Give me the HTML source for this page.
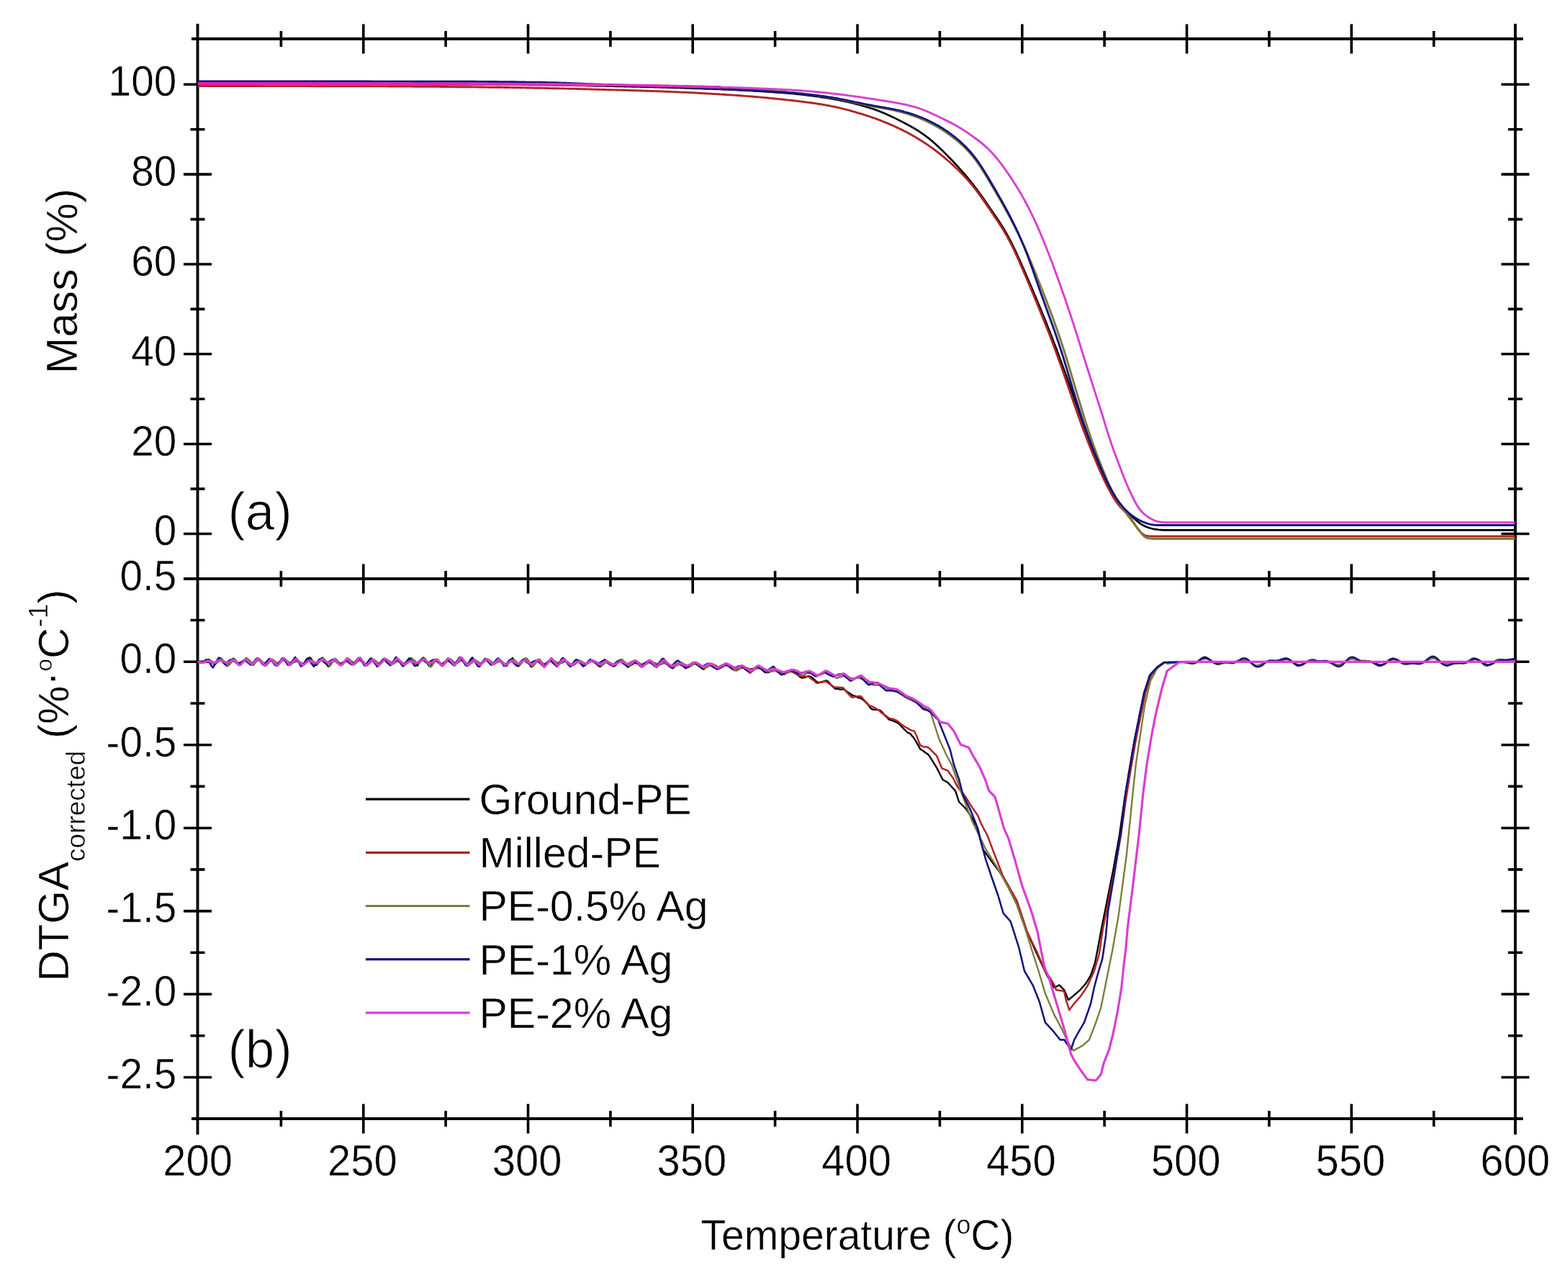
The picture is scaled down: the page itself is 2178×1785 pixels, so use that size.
<!DOCTYPE html><html><head><meta charset="utf-8"><title>TGA / DTGA</title>
<style>html,body{margin:0;padding:0;background:#fff;}svg{display:block;}text{font-family:"Liberation Sans", Arial, sans-serif;fill:#000;stroke:#fff;stroke-width:0.5px;}</style></head><body>
<svg width="2178" height="1785" viewBox="0 0 2178 1785">
<rect width="2178" height="1785" fill="#fff"/>
<g stroke="#000" stroke-width="3.9" fill="none" stroke-linecap="butt">
<path d="M274.5,33 V1576"/>
<path d="M2104.8,33 V1576"/>
<path d="M266,54.0 H2115.5"/>
<path d="M255,804.0 H2124"/>
<path d="M266,1554.0 H2115.5"/>
<path stroke-width="3.6" d="M390.4,43 V65 M390.4,793 V815 M390.4,1543 V1565 M504.8,33.5 V74.5 M504.8,783.5 V824.5 M504.8,1533.5 V1574.5 M619.1,43 V65 M619.1,793 V815 M619.1,1543 V1565 M733.5,33.5 V74.5 M733.5,783.5 V824.5 M733.5,1533.5 V1574.5 M847.9,43 V65 M847.9,793 V815 M847.9,1543 V1565 M962.2,33.5 V74.5 M962.2,783.5 V824.5 M962.2,1533.5 V1574.5 M1076.6,43 V65 M1076.6,793 V815 M1076.6,1543 V1565 M1191,33.5 V74.5 M1191,783.5 V824.5 M1191,1533.5 V1574.5 M1305.4,43 V65 M1305.4,793 V815 M1305.4,1543 V1565 M1419.8,33.5 V74.5 M1419.8,783.5 V824.5 M1419.8,1533.5 V1574.5 M1534.1,43 V65 M1534.1,793 V815 M1534.1,1543 V1565 M1648.5,33.5 V74.5 M1648.5,783.5 V824.5 M1648.5,1533.5 V1574.5 M1762.9,43 V65 M1762.9,793 V815 M1762.9,1543 V1565 M1877.2,33.5 V74.5 M1877.2,783.5 V824.5 M1877.2,1533.5 V1574.5 M1991.6,43 V65 M1991.6,793 V815 M1991.6,1543 V1565 M255,741.5 H294 M2085.3,741.5 H2124.3 M264.5,679.1 H284.5 M2094.8,679.1 H2114.8 M255,616.7 H294 M2085.3,616.7 H2124.3 M264.5,554.2 H284.5 M2094.8,554.2 H2114.8 M255,491.8 H294 M2085.3,491.8 H2124.3 M264.5,429.4 H284.5 M2094.8,429.4 H2114.8 M255,367 H294 M2085.3,367 H2124.3 M264.5,304.6 H284.5 M2094.8,304.6 H2114.8 M255,242.1 H294 M2085.3,242.1 H2124.3 M264.5,179.7 H284.5 M2094.8,179.7 H2114.8 M255,117.3 H294 M2085.3,117.3 H2124.3 M255,1496.5 H294 M2085.3,1496.5 H2124.3 M264.5,1438.8 H284.5 M2094.8,1438.8 H2114.8 M255,1381 H294 M2085.3,1381 H2124.3 M264.5,1323.3 H284.5 M2094.8,1323.3 H2114.8 M255,1265.6 H294 M2085.3,1265.6 H2124.3 M264.5,1207.9 H284.5 M2094.8,1207.9 H2114.8 M255,1150.2 H294 M2085.3,1150.2 H2124.3 M264.5,1092.4 H284.5 M2094.8,1092.4 H2114.8 M255,1034.7 H294 M2085.3,1034.7 H2124.3 M264.5,977 H284.5 M2094.8,977 H2114.8 M255,919.2 H294 M2085.3,919.2 H2124.3 M264.5,861.5 H284.5 M2094.8,861.5 H2114.8"/>
</g>
<g fill="none" stroke-width="2.4" stroke-linejoin="round" stroke-linecap="round">
<path d="M276,116.5 L352,116.5 L384,116.5 L408,116.6 L428,116.6 L446,116.6 L462,116.6 L478,116.6 L492,116.7 L506,116.7 L518,116.7 L530,116.7 L542,116.8 L554,116.8 L564,116.8 L574,116.8 L584,116.8 L594,116.9 L604,116.9 L614,116.9 L624,116.9 L632,117 L640,117 L648,117 L654,117 L660,117 L666,117.1 L668,117.1 L670,117.1 L672,117.1 L674,117.1 L676,117.1 L678,117.1 L680,117.2 L682,117.2 L684,117.2 L686,117.2 L688,117.2 L690,117.2 L692,117.3 L694,117.3 L696,117.3 L698,117.3 L700,117.3 L702,117.4 L704,117.4 L706,117.4 L708,117.4 L710,117.4 L712,117.5 L714,117.5 L716,117.5 L718,117.5 L720,117.6 L722,117.6 L724,117.6 L726,117.6 L728,117.7 L730,117.7 L732,117.7 L734,117.7 L736,117.8 L738,117.8 L740,117.8 L742,117.9 L744,117.9 L746,117.9 L748,117.9 L750,118 L752,118 L754,118 L756,118.1 L758,118.1 L760,118.1 L762,118.2 L764,118.2 L766,118.2 L768,118.3 L770,118.3 L772,118.3 L774,118.4 L776,118.4 L778,118.4 L780,118.5 L782,118.5 L784,118.5 L786,118.6 L788,118.6 L790,118.6 L792,118.7 L794,118.7 L796,118.7 L798,118.8 L800,118.8 L802,118.8 L804,118.9 L806,118.9 L808,118.9 L810,119 L812,119 L814,119 L816,119.1 L818,119.1 L820,119.2 L822,119.2 L824,119.2 L826,119.3 L828,119.3 L830,119.3 L832,119.4 L834,119.4 L836,119.4 L838,119.5 L840,119.5 L842,119.6 L844,119.6 L846,119.6 L848,119.7 L850,119.7 L852,119.7 L854,119.8 L856,119.8 L858,119.9 L860,119.9 L862,119.9 L864,120 L866,120 L868,120.1 L870,120.1 L872,120.2 L874,120.2 L876,120.2 L878,120.3 L880,120.3 L882,120.4 L884,120.4 L886,120.5 L888,120.5 L890,120.6 L892,120.6 L894,120.7 L896,120.7 L898,120.8 L900,120.8 L902,120.9 L904,120.9 L906,121 L908,121 L910,121.1 L912,121.1 L914,121.2 L916,121.2 L918,121.3 L920,121.3 L922,121.4 L924,121.5 L926,121.5 L928,121.6 L930,121.6 L932,121.7 L934,121.7 L936,121.8 L938,121.9 L940,121.9 L942,122 L944,122 L946,122.1 L948,122.2 L950,122.2 L952,122.3 L954,122.4 L956,122.4 L958,122.5 L960,122.6 L962,122.6 L964,122.7 L966,122.8 L968,122.8 L970,122.9 L972,123 L974,123 L976,123.1 L978,123.2 L980,123.3 L982,123.3 L984,123.4 L986,123.5 L988,123.5 L990,123.6 L992,123.7 L994,123.8 L996,123.9 L998,123.9 L1000,124 L1002,124.1 L1004,124.2 L1006,124.3 L1008,124.3 L1010,124.4 L1012,124.5 L1014,124.6 L1016,124.7 L1018,124.8 L1020,124.9 L1022,125 L1024,125.1 L1026,125.2 L1028,125.3 L1030,125.4 L1032,125.5 L1034,125.6 L1036,125.7 L1038,125.8 L1040,125.9 L1042,126 L1044,126.1 L1046,126.2 L1048,126.3 L1050,126.5 L1052,126.6 L1054,126.7 L1056,126.8 L1058,126.9 L1060,127.1 L1062,127.2 L1064,127.3 L1066,127.5 L1068,127.6 L1070,127.7 L1072,127.9 L1074,128 L1076,128.1 L1078,128.3 L1080,128.4 L1082,128.6 L1084,128.7 L1086,128.9 L1088,129 L1090,129.2 L1092,129.4 L1094,129.5 L1096,129.7 L1098,129.9 L1100,130 L1102,130.2 L1104,130.4 L1106,130.6 L1108,130.8 L1110,131 L1112,131.2 L1114,131.4 L1116,131.7 L1118,131.9 L1120,132.1 L1122,132.4 L1124,132.6 L1126,132.9 L1128,133.1 L1130,133.4 L1132,133.7 L1134,133.9 L1136,134.2 L1138,134.5 L1140,134.8 L1142,135.1 L1144,135.4 L1146,135.7 L1148,136 L1150,136.4 L1152,136.7 L1154,137 L1156,137.4 L1158,137.8 L1160,138.1 L1162,138.5 L1164,138.9 L1166,139.3 L1168,139.7 L1170,140.1 L1172,140.5 L1174,140.9 L1176,141.4 L1178,141.8 L1180,142.3 L1182,142.7 L1184,143.2 L1186,143.7 L1188,144.2 L1190,144.7 L1192,145.2 L1194,145.8 L1196,146.3 L1198,146.9 L1200,147.4 L1202,148 L1204,148.6 L1206,149.2 L1208,149.8 L1210,150.5 L1212,151.1 L1214,151.8 L1216,152.5 L1218,153.2 L1220,154 L1222,154.8 L1224,155.6 L1226,156.4 L1228,157.2 L1230,158.1 L1232,159 L1234,159.9 L1236,160.8 L1238,161.7 L1240,162.7 L1242,163.6 L1244,164.6 L1246,165.6 L1248,166.6 L1250,167.6 L1252,168.6 L1254,169.6 L1256,170.7 L1258,171.7 L1260,172.8 L1262,173.9 L1264,175 L1266,176.1 L1268,177.2 L1270,178.4 L1272,179.6 L1274,180.8 L1276,182.1 L1278,183.4 L1280,184.8 L1282,186.1 L1284,187.6 L1286,189 L1288,190.6 L1290,192.1 L1292,193.8 L1294,195.4 L1296,197.1 L1298,198.9 L1300,200.7 L1302,202.5 L1304,204.4 L1306,206.3 L1308,208.2 L1310,210.1 L1312,212.1 L1314,214.1 L1316,216.1 L1318,218.2 L1320,220.2 L1322,222.3 L1324,224.4 L1326,226.6 L1328,228.7 L1330,230.9 L1332,233.1 L1334,235.3 L1336,237.6 L1338,239.9 L1340,242.2 L1342,244.6 L1344,246.9 L1346,249.4 L1348,251.8 L1350,254.3 L1352,256.9 L1354,259.5 L1356,262.1 L1358,264.8 L1360,267.5 L1362,270.3 L1364,273.1 L1366,275.9 L1368,278.8 L1370,281.7 L1372,284.6 L1374,287.5 L1376,290.4 L1378,293.3 L1380,296.2 L1382,299.1 L1384,302 L1386,305 L1388,308.1 L1390,311.1 L1392,314.3 L1394,317.5 L1396,320.9 L1398,324.3 L1400,327.9 L1402,331.6 L1404,335.4 L1406,339.3 L1408,343.4 L1410,347.6 L1412,351.8 L1414,356.2 L1416,360.6 L1418,365.1 L1420,369.7 L1422,374.3 L1424,378.9 L1426,383.5 L1428,388.1 L1430,392.8 L1432,397.4 L1434,402.1 L1436,406.8 L1438,411.5 L1440,416.2 L1442,421 L1444,425.8 L1446,430.6 L1448,435.5 L1450,440.4 L1452,445.3 L1454,450.3 L1456,455.4 L1458,460.5 L1460,465.6 L1462,470.8 L1464,476 L1466,481.3 L1468,486.6 L1470,492 L1472,497.4 L1474,502.8 L1476,508.3 L1478,513.8 L1480,519.3 L1482,524.8 L1484,530.3 L1486,535.8 L1488,541.4 L1490,547 L1492,552.7 L1494,558.4 L1496,564.1 L1498,569.8 L1500,575.6 L1502,581.4 L1504,587.1 L1506,592.8 L1508,598.4 L1510,603.9 L1512,609.3 L1514,614.6 L1516,619.8 L1518,625 L1520,630 L1522,634.9 L1524,639.8 L1526,644.6 L1528,649.3 L1530,653.9 L1532,658.5 L1534,662.9 L1536,667.1 L1538,671.2 L1540,675.2 L1542,679 L1544,682.7 L1546,686.2 L1548,689.6 L1550,692.8 L1552,695.8 L1554,698.5 L1556,701.1 L1558,703.6 L1560,705.8 L1562,707.9 L1564,709.9 L1566,711.8 L1568,713.6 L1570,715.5 L1572,717.3 L1574,719.1 L1576,720.8 L1578,722.6 L1580,724.3 L1582,725.9 L1584,727.4 L1586,728.7 L1588,729.8 L1590,730.8 L1592,731.7 L1594,732.4 L1596,733.1 L1598,733.7 L1600,734.2 L1602,734.7 L1604,735.1 L1606,735.4 L1608,735.7 L1610,736 L1612,736.1 L1614,736.2 L1616,736.3 L1618,736.3 L2103.5,736.3" stroke="#000000" stroke-width="2.7"/>
<path d="M276,119.5 L330,119.5 L354,119.5 L372,119.6 L388,119.6 L402,119.6 L416,119.6 L428,119.6 L440,119.7 L452,119.7 L462,119.7 L472,119.7 L482,119.8 L492,119.8 L502,119.8 L510,119.8 L518,119.9 L524,119.9 L530,119.9 L536,119.9 L540,120 L542,120 L544,120 L546,120 L548,120 L550,120 L552,120 L554,120 L556,120 L558,120.1 L560,120.1 L562,120.1 L564,120.1 L566,120.1 L568,120.1 L570,120.1 L572,120.1 L574,120.2 L576,120.2 L578,120.2 L580,120.2 L582,120.2 L584,120.2 L586,120.2 L588,120.3 L590,120.3 L592,120.3 L594,120.3 L596,120.3 L598,120.3 L600,120.4 L602,120.4 L604,120.4 L606,120.4 L608,120.4 L610,120.4 L612,120.5 L614,120.5 L616,120.5 L618,120.5 L620,120.5 L622,120.5 L624,120.6 L626,120.6 L628,120.6 L630,120.6 L632,120.6 L634,120.7 L636,120.7 L638,120.7 L640,120.7 L642,120.7 L644,120.7 L646,120.8 L648,120.8 L650,120.8 L652,120.8 L654,120.8 L656,120.9 L658,120.9 L660,120.9 L662,120.9 L664,121 L666,121 L668,121 L670,121 L672,121 L674,121.1 L676,121.1 L678,121.1 L680,121.2 L682,121.2 L684,121.2 L686,121.2 L688,121.3 L690,121.3 L692,121.3 L694,121.3 L696,121.4 L698,121.4 L700,121.4 L702,121.5 L704,121.5 L706,121.5 L708,121.6 L710,121.6 L712,121.6 L714,121.7 L716,121.7 L718,121.7 L720,121.8 L722,121.8 L724,121.8 L726,121.9 L728,121.9 L730,121.9 L732,122 L734,122 L736,122 L738,122.1 L740,122.1 L742,122.2 L744,122.2 L746,122.2 L748,122.3 L750,122.3 L752,122.3 L754,122.4 L756,122.4 L758,122.5 L760,122.5 L762,122.5 L764,122.6 L766,122.6 L768,122.7 L770,122.7 L772,122.8 L774,122.8 L776,122.8 L778,122.9 L780,122.9 L782,123 L784,123 L786,123.1 L788,123.1 L790,123.2 L792,123.2 L794,123.3 L796,123.3 L798,123.4 L800,123.4 L802,123.5 L804,123.5 L806,123.6 L808,123.6 L810,123.7 L812,123.8 L814,123.8 L816,123.9 L818,123.9 L820,124 L822,124 L824,124.1 L826,124.1 L828,124.2 L830,124.2 L832,124.3 L834,124.4 L836,124.4 L838,124.5 L840,124.5 L842,124.6 L844,124.6 L846,124.7 L848,124.8 L850,124.8 L852,124.9 L854,124.9 L856,125 L858,125 L860,125.1 L862,125.1 L864,125.2 L866,125.3 L868,125.3 L870,125.4 L872,125.4 L874,125.5 L876,125.6 L878,125.6 L880,125.7 L882,125.7 L884,125.8 L886,125.9 L888,125.9 L890,126 L892,126 L894,126.1 L896,126.2 L898,126.2 L900,126.3 L902,126.4 L904,126.4 L906,126.5 L908,126.6 L910,126.6 L912,126.7 L914,126.8 L916,126.9 L918,126.9 L920,127 L922,127.1 L924,127.2 L926,127.2 L928,127.3 L930,127.4 L932,127.5 L934,127.6 L936,127.6 L938,127.7 L940,127.8 L942,127.9 L944,128 L946,128.1 L948,128.2 L950,128.3 L952,128.3 L954,128.4 L956,128.5 L958,128.6 L960,128.7 L962,128.8 L964,128.9 L966,129 L968,129.1 L970,129.2 L972,129.3 L974,129.5 L976,129.6 L978,129.7 L980,129.8 L982,129.9 L984,130 L986,130.1 L988,130.2 L990,130.4 L992,130.5 L994,130.6 L996,130.7 L998,130.8 L1000,131 L1002,131.1 L1004,131.2 L1006,131.3 L1008,131.5 L1010,131.6 L1012,131.7 L1014,131.9 L1016,132 L1018,132.1 L1020,132.3 L1022,132.4 L1024,132.5 L1026,132.7 L1028,132.8 L1030,133 L1032,133.1 L1034,133.3 L1036,133.4 L1038,133.6 L1040,133.7 L1042,133.9 L1044,134 L1046,134.2 L1048,134.4 L1050,134.5 L1052,134.7 L1054,134.9 L1056,135.1 L1058,135.2 L1060,135.4 L1062,135.6 L1064,135.8 L1066,136 L1068,136.2 L1070,136.4 L1072,136.6 L1074,136.8 L1076,137 L1078,137.2 L1080,137.4 L1082,137.6 L1084,137.8 L1086,138 L1088,138.2 L1090,138.4 L1092,138.6 L1094,138.9 L1096,139.1 L1098,139.3 L1100,139.5 L1102,139.7 L1104,140 L1106,140.2 L1108,140.4 L1110,140.7 L1112,140.9 L1114,141.2 L1116,141.4 L1118,141.7 L1120,141.9 L1122,142.2 L1124,142.4 L1126,142.7 L1128,143 L1130,143.3 L1132,143.6 L1134,143.9 L1136,144.2 L1138,144.5 L1140,144.8 L1142,145.1 L1144,145.5 L1146,145.8 L1148,146.2 L1150,146.5 L1152,146.9 L1154,147.3 L1156,147.7 L1158,148.1 L1160,148.5 L1162,149 L1164,149.4 L1166,149.9 L1168,150.4 L1170,150.8 L1172,151.3 L1174,151.8 L1176,152.4 L1178,152.9 L1180,153.4 L1182,154 L1184,154.6 L1186,155.1 L1188,155.7 L1190,156.3 L1192,156.9 L1194,157.5 L1196,158.1 L1198,158.7 L1200,159.3 L1202,160 L1204,160.6 L1206,161.3 L1208,161.9 L1210,162.6 L1212,163.3 L1214,164 L1216,164.7 L1218,165.4 L1220,166.2 L1222,166.9 L1224,167.7 L1226,168.5 L1228,169.3 L1230,170.1 L1232,170.9 L1234,171.7 L1236,172.6 L1238,173.4 L1240,174.3 L1242,175.2 L1244,176.1 L1246,177.1 L1248,178 L1250,179 L1252,179.9 L1254,180.9 L1256,182 L1258,183 L1260,184 L1262,185.1 L1264,186.2 L1266,187.3 L1268,188.4 L1270,189.6 L1272,190.8 L1274,192 L1276,193.2 L1278,194.4 L1280,195.7 L1282,196.9 L1284,198.2 L1286,199.6 L1288,200.9 L1290,202.3 L1292,203.7 L1294,205.1 L1296,206.5 L1298,208 L1300,209.5 L1302,211 L1304,212.6 L1306,214.2 L1308,215.8 L1310,217.4 L1312,219.1 L1314,220.8 L1316,222.5 L1318,224.2 L1320,226 L1322,227.8 L1324,229.6 L1326,231.5 L1328,233.4 L1330,235.3 L1332,237.2 L1334,239.2 L1336,241.3 L1338,243.3 L1340,245.5 L1342,247.6 L1344,249.8 L1346,252.1 L1348,254.4 L1350,256.8 L1352,259.3 L1354,261.8 L1356,264.4 L1358,267 L1360,269.7 L1362,272.5 L1364,275.3 L1366,278.1 L1368,281 L1370,283.9 L1372,286.9 L1374,289.8 L1376,292.7 L1378,295.7 L1380,298.6 L1382,301.6 L1384,304.5 L1386,307.5 L1388,310.6 L1390,313.7 L1392,316.9 L1394,320.1 L1396,323.5 L1398,326.9 L1400,330.5 L1402,334.3 L1404,338.1 L1406,342.1 L1408,346.2 L1410,350.5 L1412,354.8 L1414,359.2 L1416,363.7 L1418,368.3 L1420,372.9 L1422,377.6 L1424,382.3 L1426,387 L1428,391.7 L1430,396.5 L1432,401.2 L1434,406 L1436,410.8 L1438,415.6 L1440,420.4 L1442,425.3 L1444,430.2 L1446,435.1 L1448,440.1 L1450,445.1 L1452,450.1 L1454,455.2 L1456,460.3 L1458,465.5 L1460,470.7 L1462,476 L1464,481.3 L1466,486.7 L1468,492.2 L1470,497.7 L1472,503.3 L1474,508.9 L1476,514.6 L1478,520.4 L1480,526.2 L1482,532 L1484,537.8 L1486,543.6 L1488,549.5 L1490,555.3 L1492,561.1 L1494,566.8 L1496,572.5 L1498,578.2 L1500,583.7 L1502,589.3 L1504,594.7 L1506,600.1 L1508,605.3 L1510,610.6 L1512,615.7 L1514,620.7 L1516,625.7 L1518,630.6 L1520,635.4 L1522,640.2 L1524,644.9 L1526,649.6 L1528,654.1 L1530,658.6 L1532,663 L1534,667.2 L1536,671.3 L1538,675.3 L1540,679.1 L1542,682.9 L1544,686.5 L1546,689.9 L1548,693.2 L1550,696.2 L1552,699.1 L1554,701.7 L1556,704.1 L1558,706.3 L1560,708.3 L1562,710.3 L1564,712.3 L1566,714.4 L1568,716.7 L1570,719.2 L1572,722 L1574,725 L1576,728.1 L1578,731.2 L1580,734 L1582,736.6 L1584,738.8 L1586,740.8 L1588,742.3 L1590,743.5 L1592,744.2 L1594,744.6 L1596,744.8 L1598,744.9 L1600,745 L1602,745 L2103.5,745" stroke="#b02323" stroke-width="2.9"/>
<path d="M276,116 L348,116 L378,116 L402,116.1 L422,116.1 L440,116.1 L456,116.1 L472,116.1 L486,116.2 L500,116.2 L514,116.2 L526,116.2 L538,116.3 L550,116.3 L562,116.3 L572,116.3 L582,116.3 L592,116.4 L602,116.4 L612,116.4 L622,116.4 L632,116.5 L642,116.5 L650,116.5 L658,116.5 L666,116.6 L672,116.6 L678,116.6 L684,116.6 L688,116.6 L690,116.7 L692,116.7 L694,116.7 L696,116.7 L698,116.7 L700,116.7 L702,116.7 L704,116.7 L706,116.7 L708,116.8 L710,116.8 L712,116.8 L714,116.8 L716,116.8 L718,116.8 L720,116.8 L722,116.9 L724,116.9 L726,116.9 L728,116.9 L730,116.9 L732,116.9 L734,116.9 L736,117 L738,117 L740,117 L742,117 L744,117 L746,117 L748,117.1 L750,117.1 L752,117.1 L754,117.1 L756,117.1 L758,117.1 L760,117.2 L762,117.2 L764,117.2 L766,117.2 L768,117.2 L770,117.2 L772,117.3 L774,117.3 L776,117.3 L778,117.3 L780,117.3 L782,117.4 L784,117.4 L786,117.4 L788,117.4 L790,117.4 L792,117.5 L794,117.5 L796,117.5 L798,117.5 L800,117.6 L802,117.6 L804,117.6 L806,117.6 L808,117.6 L810,117.7 L812,117.7 L814,117.7 L816,117.7 L818,117.8 L820,117.8 L822,117.8 L824,117.8 L826,117.8 L828,117.9 L830,117.9 L832,117.9 L834,117.9 L836,118 L838,118 L840,118 L842,118 L844,118.1 L846,118.1 L848,118.1 L850,118.2 L852,118.2 L854,118.2 L856,118.2 L858,118.3 L860,118.3 L862,118.3 L864,118.4 L866,118.4 L868,118.4 L870,118.5 L872,118.5 L874,118.5 L876,118.6 L878,118.6 L880,118.6 L882,118.7 L884,118.7 L886,118.8 L888,118.8 L890,118.8 L892,118.9 L894,118.9 L896,119 L898,119 L900,119 L902,119.1 L904,119.1 L906,119.2 L908,119.2 L910,119.3 L912,119.3 L914,119.4 L916,119.4 L918,119.5 L920,119.5 L922,119.6 L924,119.6 L926,119.7 L928,119.7 L930,119.8 L932,119.8 L934,119.9 L936,119.9 L938,120 L940,120 L942,120.1 L944,120.2 L946,120.2 L948,120.3 L950,120.3 L952,120.4 L954,120.5 L956,120.5 L958,120.6 L960,120.6 L962,120.7 L964,120.8 L966,120.8 L968,120.9 L970,121 L972,121 L974,121.1 L976,121.2 L978,121.2 L980,121.3 L982,121.4 L984,121.4 L986,121.5 L988,121.6 L990,121.6 L992,121.7 L994,121.8 L996,121.9 L998,121.9 L1000,122 L1002,122.1 L1004,122.2 L1006,122.3 L1008,122.3 L1010,122.4 L1012,122.5 L1014,122.6 L1016,122.7 L1018,122.8 L1020,122.9 L1022,123 L1024,123.1 L1026,123.2 L1028,123.3 L1030,123.4 L1032,123.5 L1034,123.6 L1036,123.7 L1038,123.9 L1040,124 L1042,124.1 L1044,124.2 L1046,124.4 L1048,124.5 L1050,124.6 L1052,124.7 L1054,124.9 L1056,125 L1058,125.2 L1060,125.3 L1062,125.4 L1064,125.6 L1066,125.7 L1068,125.9 L1070,126 L1072,126.2 L1074,126.3 L1076,126.5 L1078,126.7 L1080,126.8 L1082,127 L1084,127.1 L1086,127.3 L1088,127.5 L1090,127.6 L1092,127.8 L1094,128 L1096,128.2 L1098,128.4 L1100,128.5 L1102,128.7 L1104,128.9 L1106,129.1 L1108,129.4 L1110,129.6 L1112,129.8 L1114,130 L1116,130.2 L1118,130.5 L1120,130.7 L1122,131 L1124,131.2 L1126,131.5 L1128,131.8 L1130,132.1 L1132,132.3 L1134,132.6 L1136,132.9 L1138,133.2 L1140,133.5 L1142,133.8 L1144,134.1 L1146,134.4 L1148,134.7 L1150,135.1 L1152,135.4 L1154,135.8 L1156,136.1 L1158,136.5 L1160,136.8 L1162,137.2 L1164,137.6 L1166,138 L1168,138.4 L1170,138.8 L1172,139.2 L1174,139.6 L1176,140.1 L1178,140.5 L1180,140.9 L1182,141.4 L1184,141.8 L1186,142.2 L1188,142.7 L1190,143.1 L1192,143.6 L1194,144 L1196,144.4 L1198,144.8 L1200,145.3 L1202,145.7 L1204,146.1 L1206,146.5 L1208,146.9 L1210,147.3 L1212,147.7 L1214,148.1 L1216,148.5 L1218,148.8 L1220,149.2 L1222,149.6 L1224,149.9 L1226,150.3 L1228,150.6 L1230,151 L1232,151.4 L1234,151.8 L1236,152.1 L1238,152.5 L1240,152.9 L1242,153.4 L1244,153.8 L1246,154.3 L1248,154.7 L1250,155.2 L1252,155.7 L1254,156.3 L1256,156.8 L1258,157.4 L1260,158 L1262,158.6 L1264,159.3 L1266,160 L1268,160.7 L1270,161.4 L1272,162.1 L1274,162.9 L1276,163.6 L1278,164.4 L1280,165.3 L1282,166.1 L1284,167 L1286,167.9 L1288,168.8 L1290,169.8 L1292,170.8 L1294,171.8 L1296,172.9 L1298,173.9 L1300,175.1 L1302,176.2 L1304,177.4 L1306,178.6 L1308,179.8 L1310,181.1 L1312,182.4 L1314,183.8 L1316,185.2 L1318,186.6 L1320,188 L1322,189.5 L1324,191 L1326,192.6 L1328,194.2 L1330,195.8 L1332,197.5 L1334,199.3 L1336,201.1 L1338,203 L1340,204.9 L1342,206.9 L1344,209 L1346,211.1 L1348,213.4 L1350,215.7 L1352,218.2 L1354,220.7 L1356,223.4 L1358,226.1 L1360,229 L1362,232 L1364,235.1 L1366,238.2 L1368,241.4 L1370,244.7 L1372,248 L1374,251.4 L1376,254.8 L1378,258.1 L1380,261.6 L1382,265 L1384,268.4 L1386,271.9 L1388,275.3 L1390,278.8 L1392,282.4 L1394,285.9 L1396,289.5 L1398,293.2 L1400,296.8 L1402,300.6 L1404,304.4 L1406,308.2 L1408,312.1 L1410,316 L1412,320.1 L1414,324.2 L1416,328.3 L1418,332.5 L1420,336.9 L1422,341.2 L1424,345.7 L1426,350.2 L1428,354.8 L1430,359.5 L1432,364.2 L1434,369 L1436,373.9 L1438,378.8 L1440,383.7 L1442,388.7 L1444,393.7 L1446,398.8 L1448,403.8 L1450,409 L1452,414.1 L1454,419.3 L1456,424.6 L1458,429.9 L1460,435.2 L1462,440.6 L1464,446.1 L1466,451.7 L1468,457.3 L1470,463 L1472,468.8 L1474,474.8 L1476,480.8 L1478,487 L1480,493.3 L1482,499.8 L1484,506.3 L1486,513 L1488,519.7 L1490,526.5 L1492,533.2 L1494,540 L1496,546.8 L1498,553.5 L1500,560.2 L1502,566.8 L1504,573.3 L1506,579.8 L1508,586.1 L1510,592.4 L1512,598.5 L1514,604.5 L1516,610.4 L1518,616.1 L1520,621.7 L1522,627.1 L1524,632.5 L1526,637.7 L1528,642.9 L1530,647.9 L1532,652.9 L1534,657.9 L1536,662.7 L1538,667.4 L1540,671.8 L1542,676.1 L1544,680.2 L1546,684.1 L1548,687.8 L1550,691.4 L1552,694.8 L1554,698.1 L1556,701.3 L1558,704.3 L1560,707.2 L1562,710 L1564,712.7 L1566,715.3 L1568,718 L1570,720.6 L1572,723.3 L1574,725.9 L1576,728.5 L1578,731 L1580,733.6 L1582,736.2 L1584,738.8 L1586,741.4 L1588,743.7 L1590,745.6 L1592,746.8 L1594,747.5 L1596,747.9 L1598,748.1 L1600,748.3 L1602,748.4 L1604,748.5 L1606,748.5 L2103.5,748.5" stroke="#7c7c3e" stroke-width="3.0"/>
<path d="M276,112.9 L366,112.9 L402,112.9 L430,113 L454,113 L474,113 L492,113 L508,113 L524,113.1 L538,113.1 L552,113.1 L566,113.1 L578,113.2 L590,113.2 L602,113.2 L614,113.2 L624,113.2 L634,113.3 L644,113.3 L652,113.3 L658,113.3 L664,113.4 L666,113.4 L668,113.4 L670,113.4 L672,113.4 L674,113.4 L676,113.4 L678,113.4 L680,113.5 L682,113.5 L684,113.5 L686,113.5 L688,113.5 L690,113.5 L692,113.6 L694,113.6 L696,113.6 L698,113.6 L700,113.6 L702,113.7 L704,113.7 L706,113.7 L708,113.7 L710,113.8 L712,113.8 L714,113.8 L716,113.8 L718,113.9 L720,113.9 L722,113.9 L724,113.9 L726,114 L728,114 L730,114 L732,114.1 L734,114.1 L736,114.1 L738,114.1 L740,114.2 L742,114.2 L744,114.2 L746,114.3 L748,114.3 L750,114.3 L752,114.4 L754,114.4 L756,114.4 L758,114.5 L760,114.5 L762,114.6 L764,114.6 L766,114.7 L768,114.7 L770,114.8 L772,114.8 L774,114.9 L776,114.9 L778,115 L780,115.1 L782,115.1 L784,115.2 L786,115.3 L788,115.4 L790,115.4 L792,115.5 L794,115.6 L796,115.7 L798,115.8 L800,115.9 L802,115.9 L804,116 L806,116.1 L808,116.2 L810,116.3 L812,116.4 L814,116.5 L816,116.6 L818,116.6 L820,116.7 L822,116.8 L824,116.9 L826,117 L828,117.1 L830,117.1 L832,117.2 L834,117.3 L836,117.4 L838,117.4 L840,117.5 L842,117.6 L844,117.7 L846,117.7 L848,117.8 L850,117.9 L852,117.9 L854,118 L856,118.1 L858,118.1 L860,118.2 L862,118.3 L864,118.3 L866,118.4 L868,118.5 L870,118.5 L872,118.6 L874,118.6 L876,118.7 L878,118.8 L880,118.8 L882,118.9 L884,119 L886,119 L888,119.1 L890,119.2 L892,119.2 L894,119.3 L896,119.3 L898,119.4 L900,119.5 L902,119.5 L904,119.6 L906,119.7 L908,119.7 L910,119.8 L912,119.9 L914,119.9 L916,120 L918,120.1 L920,120.1 L922,120.2 L924,120.3 L926,120.4 L928,120.4 L930,120.5 L932,120.6 L934,120.7 L936,120.7 L938,120.8 L940,120.9 L942,121 L944,121 L946,121.1 L948,121.2 L950,121.3 L952,121.4 L954,121.5 L956,121.5 L958,121.6 L960,121.7 L962,121.8 L964,121.9 L966,122 L968,122 L970,122.1 L972,122.2 L974,122.3 L976,122.4 L978,122.5 L980,122.6 L982,122.7 L984,122.8 L986,122.8 L988,122.9 L990,123 L992,123.1 L994,123.2 L996,123.3 L998,123.4 L1000,123.5 L1002,123.6 L1004,123.7 L1006,123.8 L1008,123.9 L1010,124 L1012,124.1 L1014,124.2 L1016,124.3 L1018,124.3 L1020,124.4 L1022,124.5 L1024,124.6 L1026,124.7 L1028,124.8 L1030,124.9 L1032,125 L1034,125.1 L1036,125.2 L1038,125.3 L1040,125.4 L1042,125.5 L1044,125.6 L1046,125.7 L1048,125.8 L1050,125.9 L1052,126 L1054,126.1 L1056,126.2 L1058,126.3 L1060,126.4 L1062,126.6 L1064,126.7 L1066,126.8 L1068,126.9 L1070,127 L1072,127.1 L1074,127.3 L1076,127.4 L1078,127.5 L1080,127.6 L1082,127.8 L1084,127.9 L1086,128 L1088,128.2 L1090,128.3 L1092,128.4 L1094,128.6 L1096,128.7 L1098,128.9 L1100,129 L1102,129.2 L1104,129.4 L1106,129.5 L1108,129.7 L1110,129.9 L1112,130.1 L1114,130.3 L1116,130.5 L1118,130.7 L1120,130.9 L1122,131.1 L1124,131.3 L1126,131.5 L1128,131.7 L1130,132 L1132,132.2 L1134,132.5 L1136,132.7 L1138,132.9 L1140,133.2 L1142,133.5 L1144,133.7 L1146,134 L1148,134.3 L1150,134.6 L1152,134.9 L1154,135.2 L1156,135.5 L1158,135.9 L1160,136.2 L1162,136.5 L1164,136.9 L1166,137.3 L1168,137.7 L1170,138 L1172,138.4 L1174,138.8 L1176,139.2 L1178,139.7 L1180,140.1 L1182,140.5 L1184,140.9 L1186,141.3 L1188,141.8 L1190,142.2 L1192,142.6 L1194,143 L1196,143.4 L1198,143.9 L1200,144.3 L1202,144.7 L1204,145.1 L1206,145.5 L1208,145.8 L1210,146.2 L1212,146.6 L1214,147 L1216,147.3 L1218,147.7 L1220,148 L1222,148.4 L1224,148.7 L1226,149 L1228,149.4 L1230,149.7 L1232,150.1 L1234,150.4 L1236,150.8 L1238,151.2 L1240,151.6 L1242,152 L1244,152.4 L1246,152.8 L1248,153.2 L1250,153.7 L1252,154.2 L1254,154.7 L1256,155.3 L1258,155.8 L1260,156.4 L1262,157 L1264,157.6 L1266,158.2 L1268,158.9 L1270,159.6 L1272,160.3 L1274,161 L1276,161.8 L1278,162.5 L1280,163.3 L1282,164.2 L1284,165 L1286,165.9 L1288,166.8 L1290,167.7 L1292,168.7 L1294,169.7 L1296,170.7 L1298,171.8 L1300,172.9 L1302,174 L1304,175.1 L1306,176.3 L1308,177.6 L1310,178.8 L1312,180.1 L1314,181.4 L1316,182.8 L1318,184.2 L1320,185.6 L1322,187.1 L1324,188.6 L1326,190.2 L1328,191.8 L1330,193.5 L1332,195.2 L1334,197 L1336,198.8 L1338,200.7 L1340,202.6 L1342,204.6 L1344,206.7 L1346,208.9 L1348,211.1 L1350,213.5 L1352,215.9 L1354,218.5 L1356,221.1 L1358,223.9 L1360,226.8 L1362,229.7 L1364,232.8 L1366,236 L1368,239.2 L1370,242.4 L1372,245.8 L1374,249.1 L1376,252.5 L1378,255.9 L1380,259.3 L1382,262.7 L1384,266.2 L1386,269.7 L1388,273.2 L1390,276.7 L1392,280.3 L1394,283.9 L1396,287.5 L1398,291.2 L1400,295 L1402,298.8 L1404,302.6 L1406,306.6 L1408,310.6 L1410,314.7 L1412,318.9 L1414,323.1 L1416,327.5 L1418,332 L1420,336.7 L1422,341.5 L1424,346.4 L1426,351.5 L1428,356.8 L1430,362.2 L1432,367.7 L1434,373.3 L1436,379 L1438,384.8 L1440,390.5 L1442,396.3 L1444,402 L1446,407.7 L1448,413.3 L1450,418.8 L1452,424.4 L1454,429.9 L1456,435.4 L1458,440.9 L1460,446.4 L1462,452 L1464,457.6 L1466,463.3 L1468,469.1 L1470,475 L1472,481.1 L1474,487.2 L1476,493.6 L1478,500 L1480,506.6 L1482,513.2 L1484,519.9 L1486,526.7 L1488,533.4 L1490,540.1 L1492,546.7 L1494,553.2 L1496,559.7 L1498,566 L1500,572.3 L1502,578.4 L1504,584.5 L1506,590.4 L1508,596.1 L1510,601.8 L1512,607.3 L1514,612.7 L1516,617.9 L1518,623.1 L1520,628.1 L1522,633 L1524,637.9 L1526,642.7 L1528,647.4 L1530,652.1 L1532,656.7 L1534,661.2 L1536,665.6 L1538,669.8 L1540,673.8 L1542,677.6 L1544,681.3 L1546,684.8 L1548,688.1 L1550,691.3 L1552,694.2 L1554,697.1 L1556,699.7 L1558,702.2 L1560,704.6 L1562,706.8 L1564,708.9 L1566,710.8 L1568,712.6 L1570,714.3 L1572,715.9 L1574,717.3 L1576,718.7 L1578,720 L1580,721.2 L1582,722.3 L1584,723.4 L1586,724.3 L1588,725.2 L1590,725.9 L1592,726.6 L1594,727.3 L1596,727.9 L1598,728.4 L1600,728.8 L1602,729.1 L1604,729.3 L1606,729.4 L1608,729.5 L2103.5,729.5" stroke="#15157f" stroke-width="2.9"/>
<path d="M276,116.2 L338,116.2 L364,116.2 L386,116.3 L404,116.3 L420,116.3 L434,116.3 L448,116.3 L462,116.4 L474,116.4 L486,116.4 L498,116.4 L510,116.5 L520,116.5 L530,116.5 L540,116.5 L550,116.5 L560,116.6 L570,116.6 L580,116.6 L590,116.6 L598,116.7 L606,116.7 L614,116.7 L622,116.7 L630,116.7 L638,116.8 L646,116.8 L654,116.8 L662,116.8 L668,116.9 L674,116.9 L680,116.9 L686,116.9 L692,117 L698,117 L704,117 L708,117 L710,117 L712,117 L714,117.1 L716,117.1 L718,117.1 L720,117.1 L722,117.1 L724,117.1 L726,117.1 L728,117.1 L730,117.1 L732,117.2 L734,117.2 L736,117.2 L738,117.2 L740,117.2 L742,117.2 L744,117.2 L746,117.2 L748,117.3 L750,117.3 L752,117.3 L754,117.3 L756,117.3 L758,117.3 L760,117.3 L762,117.4 L764,117.4 L766,117.4 L768,117.4 L770,117.4 L772,117.4 L774,117.4 L776,117.5 L778,117.5 L780,117.5 L782,117.5 L784,117.5 L786,117.5 L788,117.6 L790,117.6 L792,117.6 L794,117.6 L796,117.6 L798,117.6 L800,117.7 L802,117.7 L804,117.7 L806,117.7 L808,117.7 L810,117.7 L812,117.8 L814,117.8 L816,117.8 L818,117.8 L820,117.8 L822,117.8 L824,117.9 L826,117.9 L828,117.9 L830,117.9 L832,117.9 L834,118 L836,118 L838,118 L840,118 L842,118 L844,118.1 L846,118.1 L848,118.1 L850,118.1 L852,118.1 L854,118.2 L856,118.2 L858,118.2 L860,118.2 L862,118.3 L864,118.3 L866,118.3 L868,118.3 L870,118.4 L872,118.4 L874,118.4 L876,118.4 L878,118.5 L880,118.5 L882,118.5 L884,118.6 L886,118.6 L888,118.6 L890,118.7 L892,118.7 L894,118.7 L896,118.8 L898,118.8 L900,118.8 L902,118.9 L904,118.9 L906,118.9 L908,119 L910,119 L912,119 L914,119.1 L916,119.1 L918,119.1 L920,119.2 L922,119.2 L924,119.3 L926,119.3 L928,119.3 L930,119.4 L932,119.4 L934,119.5 L936,119.5 L938,119.5 L940,119.6 L942,119.6 L944,119.7 L946,119.7 L948,119.8 L950,119.8 L952,119.8 L954,119.9 L956,119.9 L958,120 L960,120 L962,120.1 L964,120.1 L966,120.2 L968,120.2 L970,120.3 L972,120.3 L974,120.3 L976,120.4 L978,120.4 L980,120.5 L982,120.5 L984,120.6 L986,120.6 L988,120.7 L990,120.7 L992,120.8 L994,120.8 L996,120.9 L998,121 L1000,121 L1002,121.1 L1004,121.1 L1006,121.2 L1008,121.2 L1010,121.3 L1012,121.3 L1014,121.4 L1016,121.5 L1018,121.5 L1020,121.6 L1022,121.6 L1024,121.7 L1026,121.8 L1028,121.8 L1030,121.9 L1032,122 L1034,122 L1036,122.1 L1038,122.2 L1040,122.3 L1042,122.3 L1044,122.4 L1046,122.5 L1048,122.6 L1050,122.6 L1052,122.7 L1054,122.8 L1056,122.9 L1058,123 L1060,123 L1062,123.1 L1064,123.2 L1066,123.3 L1068,123.4 L1070,123.5 L1072,123.6 L1074,123.7 L1076,123.8 L1078,123.9 L1080,124 L1082,124.1 L1084,124.2 L1086,124.3 L1088,124.4 L1090,124.5 L1092,124.6 L1094,124.7 L1096,124.8 L1098,124.9 L1100,125 L1102,125.2 L1104,125.3 L1106,125.4 L1108,125.5 L1110,125.7 L1112,125.8 L1114,126 L1116,126.1 L1118,126.3 L1120,126.4 L1122,126.6 L1124,126.8 L1126,126.9 L1128,127.1 L1130,127.3 L1132,127.5 L1134,127.7 L1136,127.8 L1138,128 L1140,128.2 L1142,128.4 L1144,128.6 L1146,128.8 L1148,129 L1150,129.2 L1152,129.4 L1154,129.7 L1156,129.9 L1158,130.1 L1160,130.3 L1162,130.6 L1164,130.8 L1166,131 L1168,131.3 L1170,131.5 L1172,131.8 L1174,132.1 L1176,132.3 L1178,132.6 L1180,132.9 L1182,133.1 L1184,133.4 L1186,133.7 L1188,134 L1190,134.3 L1192,134.5 L1194,134.8 L1196,135.1 L1198,135.4 L1200,135.7 L1202,136 L1204,136.3 L1206,136.6 L1208,136.9 L1210,137.2 L1212,137.5 L1214,137.8 L1216,138.1 L1218,138.4 L1220,138.8 L1222,139.1 L1224,139.4 L1226,139.7 L1228,140 L1230,140.3 L1232,140.6 L1234,141 L1236,141.3 L1238,141.6 L1240,142 L1242,142.3 L1244,142.7 L1246,143 L1248,143.4 L1250,143.8 L1252,144.2 L1254,144.6 L1256,145 L1258,145.4 L1260,145.9 L1262,146.4 L1264,146.8 L1266,147.4 L1268,147.9 L1270,148.5 L1272,149 L1274,149.7 L1276,150.3 L1278,151 L1280,151.7 L1282,152.5 L1284,153.3 L1286,154.1 L1288,154.9 L1290,155.8 L1292,156.7 L1294,157.6 L1296,158.5 L1298,159.5 L1300,160.4 L1302,161.3 L1304,162.3 L1306,163.2 L1308,164.2 L1310,165.1 L1312,166.1 L1314,167.1 L1316,168.1 L1318,169.1 L1320,170.1 L1322,171.1 L1324,172.2 L1326,173.3 L1328,174.4 L1330,175.5 L1332,176.7 L1334,177.9 L1336,179.2 L1338,180.4 L1340,181.7 L1342,183.1 L1344,184.4 L1346,185.8 L1348,187.2 L1350,188.6 L1352,190 L1354,191.5 L1356,193 L1358,194.5 L1360,196 L1362,197.6 L1364,199.2 L1366,200.9 L1368,202.6 L1370,204.4 L1372,206.3 L1374,208.2 L1376,210.3 L1378,212.4 L1380,214.6 L1382,216.8 L1384,219.2 L1386,221.6 L1388,224.2 L1390,226.8 L1392,229.4 L1394,232.2 L1396,235 L1398,237.8 L1400,240.7 L1402,243.6 L1404,246.6 L1406,249.6 L1408,252.7 L1410,255.9 L1412,259.1 L1414,262.3 L1416,265.7 L1418,269.1 L1420,272.6 L1422,276.1 L1424,279.8 L1426,283.5 L1428,287.3 L1430,291.2 L1432,295.2 L1434,299.3 L1436,303.5 L1438,307.8 L1440,312.2 L1442,316.7 L1444,321.3 L1446,326 L1448,330.8 L1450,335.7 L1452,340.7 L1454,345.7 L1456,350.8 L1458,356 L1460,361.3 L1462,366.6 L1464,372 L1466,377.4 L1468,382.9 L1470,388.5 L1472,394.1 L1474,399.7 L1476,405.4 L1478,411.1 L1480,416.9 L1482,422.8 L1484,428.7 L1486,434.7 L1488,440.7 L1490,446.8 L1492,453 L1494,459.2 L1496,465.5 L1498,471.9 L1500,478.3 L1502,484.7 L1504,491.2 L1506,497.6 L1508,504.1 L1510,510.5 L1512,516.8 L1514,523.1 L1516,529.4 L1518,535.6 L1520,541.8 L1522,547.9 L1524,554.1 L1526,560.2 L1528,566.4 L1530,572.8 L1532,579.2 L1534,585.8 L1536,592.4 L1538,598.9 L1540,605.2 L1542,611.3 L1544,617.2 L1546,622.9 L1548,628.4 L1550,633.8 L1552,639.1 L1554,644.4 L1556,649.6 L1558,654.9 L1560,660.1 L1562,665.2 L1564,670.1 L1566,674.8 L1568,679.3 L1570,683.6 L1572,687.8 L1574,691.9 L1576,695.9 L1578,699.5 L1580,702.9 L1582,705.9 L1584,708.5 L1586,710.8 L1588,712.8 L1590,714.6 L1592,716.2 L1594,717.7 L1596,719 L1598,720.2 L1600,721.3 L1602,722.3 L1604,723.2 L1606,724 L1608,724.5 L1610,724.9 L1612,725.2 L1614,725.4 L1616,725.5 L1618,725.6 L1620,725.7 L1622,725.7 L2103.5,725.7" stroke="#d83ed4" stroke-width="2.9"/>
<path d="M276,116.2 L338,116.2 L364,116.2 L386,116.3 L404,116.3 L420,116.3 L434,116.3 L448,116.3 L462,116.4 L474,116.4 L486,116.4 L498,116.4 L510,116.5 L520,116.5 L530,116.5 L540,116.5 L550,116.5 L560,116.6 L570,116.6 L580,116.6 L590,116.6 L598,116.7 L606,116.7 L614,116.7 L622,116.7 L630,116.7 L638,116.8 L646,116.8 L654,116.8 L662,116.8 L668,116.9 L674,116.9 L680,116.9 L686,116.9 L692,117 L694,117 L696,117 L698,117 L700,117 L702,117 L704,117 L706,117 L708,117 L710,117.1 L712,117.1 L714,117.1 L716,117.1 L718,117.1 L720,117.1 L722,117.1 L724,117.1 L726,117.2 L728,117.2 L730,117.2 L732,117.2 L734,117.2 L736,117.2 L738,117.2 L740,117.2 L742,117.3 L744,117.3 L746,117.3 L748,117.3 L750,117.3 L752,117.3 L754,117.3 L756,117.4 L758,117.4 L760,117.4 L762,117.4 L764,117.4 L766,117.4 L768,117.4 L770,117.5 L772,117.5 L774,117.5 L776,117.5 L778,117.5 L780,117.5 L782,117.6 L784,117.6 L786,117.6 L788,117.6 L790,117.6 L792,117.6 L794,117.6 L796,117.7 L798,117.7 L800,117.7 L802,117.7 L804,117.7 L806,117.7 L808,117.8 L810,117.8 L812,117.8 L814,117.8 L816,117.8 L818,117.8 L820,117.8 L822,117.9 L824,117.9 L826,117.9 L828,117.9 L830,117.9 L832,117.9 L834,117.9 L836,118 L838,118" stroke="#e81cb0" stroke-width="4.4" stroke-linecap="butt"/>
<path d="M650,116.8 L670,116.8 L680,116.8 L688,116.9 L694,116.9 L700,116.9 L706,116.9 L710,117 L712,117 L714,117 L716,117 L718,117 L720,117 L722,117 L724,117 L726,117.1 L728,117.1 L730,117.1 L732,117.1 L734,117.1 L736,117.1 L738,117.1 L740,117.1 L742,117.2 L744,117.2 L746,117.2 L748,117.2 L750,117.2 L752,117.2 L754,117.2 L756,117.3 L758,117.3 L760,117.3 L762,117.3 L764,117.3 L766,117.3 L768,117.4 L770,117.4 L772,117.4 L774,117.4 L776,117.4 L778,117.4 L780,117.5 L782,117.5 L784,117.5 L786,117.5 L788,117.5 L790,117.5 L792,117.6 L794,117.6 L796,117.6 L798,117.6 L800,117.6 L802,117.7 L804,117.7 L806,117.7 L808,117.7 L810,117.7 L812,117.7 L814,117.8 L816,117.8 L818,117.8 L820,117.8 L822,117.8 L824,117.9 L826,117.9 L828,117.9 L830,117.9 L832,117.9 L834,118 L836,118 L838,118 L840,118 L842,118 L844,118.1 L846,118.1 L848,118.1 L850,118.1 L852,118.1 L854,118.2 L856,118.2 L858,118.2 L860,118.2 L862,118.3 L864,118.3 L866,118.3 L868,118.3 L870,118.4 L872,118.4 L874,118.4 L876,118.5 L878,118.5 L880,118.5 L882,118.5 L884,118.6 L886,118.6 L888,118.6 L890,118.7 L892,118.7 L894,118.7 L896,118.8 L898,118.8 L900,118.8 L902,118.9 L904,118.9 L906,119 L908,119 L910,119 L912,119.1 L914,119.1 L916,119.1 L918,119.2 L920,119.2 L922,119.3 L924,119.3 L926,119.3 L928,119.4 L930,119.4 L932,119.5 L934,119.5 L936,119.5 L938,119.6 L940,119.6 L942,119.7 L944,119.7 L946,119.8 L948,119.8 L950,119.8 L952,119.9 L954,119.9 L956,120 L958,120 L960,120.1 L962,120.1 L964,120.2 L966,120.2 L968,120.2 L970,120.3 L972,120.3 L974,120.4 L976,120.4 L978,120.5 L980,120.5 L982,120.6 L984,120.6 L986,120.7 L988,120.7 L990,120.7 L992,120.8 L994,120.8 L996,120.9 L998,120.9 L1000,120.9" stroke="#e22cc0" stroke-width="3.6" stroke-linecap="round"/>
</g>
<g fill="none" stroke-width="2.4" stroke-linejoin="round" stroke-linecap="round">
<path d="M276,919.5 L278,919.8 L280,920.3 L282,920.4 L284,919.9 L286,918.7 L288,917 L290,916.1 L292,917.5 L294,919 L296,921.3 L298,923.5 L300,921.8 L302,919.5 L304,916.4 L306,914.2 L308,915.4 L310,918.6 L312,921.7 L314,924.1 L316,925.3 L318,922.8 L320,919.9 L322,917.3 L324,914.8 L326,915.9 L328,918.3 L330,920.5 L332,922.9 L334,923.1 L336,920.7 L338,918.3 L340,916.3 L342,914.3 L344,915.9 L346,918.5 L348,921.1 L350,923.7 L352,923.5 L354,921.1 L356,918.7 L358,916.6 L360,915.1 L362,918 L364,920.3 L366,922.8 L368,924.9 L370,923.8 L372,921.7 L374,918.8 L376,916.4 L378,916.3 L380,918 L382,919.9 L384,920.8 L386,921.3 L388,920 L390,919 L392,917.6 L394,916.3 L396,916.7 L398,918.6 L400,920 L402,920.7 L404,921.4 L406,920.4 L408,919.4 L410,919 L412,917.5 L414,918.3 L416,919.6 L418,920.9 L420,922.9 L422,923.1 L424,921.1 L426,918.5 L428,915.9 L430,913.2 L432,915 L434,918 L436,921.1 L438,924 L440,923.9 L442,920.6 L444,917.5 L446,915 L448,913.5 L450,916.6 L452,920.3 L454,923 L456,925.8 L458,924.4 L460,921.5 L462,918.7 L464,915.8 L466,915.1 L468,917.8 L470,919.7 L472,921.7 L474,923 L476,921 L478,919.4 L480,917.3 L482,915.4 L484,916 L486,917.5 L488,919.1 L490,921.5 L492,923 L494,921.1 L496,919.3 L498,918 L500,916.7 L502,917.6 L504,920 L506,922.3 L508,924.2 L510,924.3 L512,921.7 L514,919.2 L516,917.9 L518,915.9 L520,917.5 L522,918.6 L524,920.3 L526,921.7 L528,920.9 L530,919 L532,917.9 L534,916.4 L536,915.8 L538,917.4 L540,919.2 L542,920.7 L544,922 L546,922 L548,920.7 L550,919 L552,917.5 L554,917.1 L556,918.4 L558,920 L560,921.9 L562,924 L564,921.9 L566,919.5 L568,917.2 L570,914.4 L572,914.6 L574,917.3 L576,920.2 L578,922.8 L580,924.4 L582,921 L584,918.7 L586,916 L588,913.4 L590,915 L592,918.6 L594,921.9 L596,925.2 L598,925.5 L600,923 L602,919.9 L604,917.7 L606,916 L608,918.2 L610,920.1 L612,921.7 L614,923.3 L616,922.7 L618,920.3 L620,918.6 L622,917.2 L624,916.5 L626,917.6 L628,919.2 L630,920.9 L632,922.4 L634,921.7 L636,920.3 L638,919 L640,917.6 L642,916.9 L644,919 L646,921.3 L648,923.2 L650,924.8 L652,922.9 L654,921.1 L656,919.1 L658,916.8 L660,917.2 L662,918.3 L664,920.1 L666,921.1 L668,922 L670,920.2 L672,918.4 L674,917.2 L676,915.8 L678,917.1 L680,919.1 L682,920.6 L684,922 L686,922.6 L688,921.5 L690,919.9 L692,918.2 L694,917.1 L696,918.8 L698,920.5 L700,922.9 L702,925 L704,924.7 L706,921.7 L708,918.7 L710,916.1 L712,914.2 L714,917 L716,919.4 L718,922.4 L720,925.5 L722,923.9 L724,921 L726,918.3 L728,915.8 L730,914.6 L732,918.3 L734,920.9 L736,923.4 L738,926.2 L740,925 L742,922.3 L744,920.1 L746,918.4 L748,917.3 L750,918.9 L752,920.7 L754,922.3 L756,923.1 L758,922.2 L760,920.3 L762,919.5 L764,918 L766,917.3 L768,918.2 L770,919.2 L772,920.8 L774,921.7 L776,922.5 L778,921.7 L780,920.5 L782,920.2 L784,918.9 L786,918.9 L788,920 L790,921.7 L792,923.1 L794,924.7 L796,923.9 L798,922.6 L800,921.1 L802,919.4 L804,917.5 L806,918.6 L808,919.5 L810,920.5 L812,922.1 L814,923.1 L816,921.4 L818,920.2 L820,919 L822,918.1 L824,918.3 L826,920.1 L828,921.9 L830,923.4 L832,925.4 L834,925.8 L836,923.8 L838,922.6 L840,921 L842,918.5 L844,918.6 L846,920.3 L848,922.3 L850,923.7 L852,925.7 L854,925.1 L856,922.9 L858,920.9 L860,918.6 L862,916.3 L864,917 L866,919.6 L868,922.2 L870,924.3 L872,926.7 L874,925.6 L876,924.2 L878,922.9 L880,921.8 L882,920.2 L884,921 L886,922.1 L888,923.5 L890,924.4 L892,924.8 L894,923.8 L896,922.5 L898,921.6 L900,920.9 L902,920.1 L904,919.6 L906,920.6 L908,920.9 L910,922.1 L912,922.7 L914,923.3 L916,923.3 L918,922.6 L920,921.8 L922,921.3 L924,921 L926,922.5 L928,923.8 L930,925.5 L932,926.7 L934,928.3 L936,926.9 L938,925.1 L940,923.4 L942,921.6 L944,920 L946,920.2 L948,921.7 L950,923.4 L952,924.9 L954,926.3 L956,926.9 L958,925.8 L960,924.9 L962,923.2 L964,922.5 L966,921.8 L968,923 L970,924.7 L972,926 L974,927.6 L976,929.4 L978,929.5 L980,927.5 L982,926.6 L984,924.9 L986,922.9 L988,921.8 L990,923 L992,924.4 L994,926.1 L996,927.2 L998,929.2 L1000,928 L1002,927.1 L1004,926.2 L1006,924.7 L1008,923.5 L1010,922.7 L1012,924.5 L1014,926.6 L1016,928.6 L1018,929.9 L1020,931 L1022,930.7 L1024,929.9 L1026,929.6 L1028,928.4 L1030,928.1 L1032,927.2 L1034,927.5 L1036,927.9 L1038,928.7 L1040,928.9 L1042,929.2 L1044,929.5 L1046,928.9 L1048,928.9 L1050,928.4 L1052,928.3 L1054,927.9 L1056,928.2 L1058,929.3 L1060,930.4 L1062,931.6 L1064,932.9 L1066,934.2 L1068,933.8 L1070,932.9 L1072,932.4 L1074,931.6 L1076,930.3 L1078,929.9 L1080,931 L1082,932.3 L1084,933.2 L1086,934.5 L1088,936.1 L1090,936.5 L1092,934.7 L1094,933.3 L1096,932.4 L1098,931.1 L1100,930.6 L1102,931.8 L1104,933.5 L1106,935.2 L1108,937.5 L1110,939.2 L1112,940.8 L1114,941.7 L1116,941.2 L1118,941.1 L1120,940.2 L1122,939.7 L1124,939.3 L1126,939.8 L1128,941.2 L1130,942.9 L1132,944.9 L1133.9,946.7 L1135.8,947.8 L1137.7,948 L1139.6,947.6 L1141.5,947.1 L1143.4,946.7 L1145.3,946.1 L1147.2,945.4 L1149.1,945.8 L1151,947.6 L1152.9,949.8 L1154.8,952 L1156.7,953.9 L1158.6,955.4 L1160.5,956.7 L1162.4,956.7 L1164.3,957.1 L1166.2,957.5 L1168.1,957.8 L1170,957.3 L1171.8,957.3 L1173.6,958.7 L1175.4,960 L1177.2,961.4 L1179,962.4 L1180.8,963.5 L1182.6,964.7 L1184.4,965.9 L1186.2,966.8 L1188,967 L1189.7,968 L1191.5,969 L1193.3,969.3 L1195.1,969.9 L1196.9,970.7 L1198.7,971.9 L1200.5,973.5 L1202.3,975.1 L1204.1,977.2 L1205.9,978.9 L1207.7,981.5 L1209.4,983.8 L1211,985 L1212.7,985.6 L1214.4,985.8 L1216,985.8 L1217.7,986 L1219.4,986.1 L1221,986.4 L1222.7,987 L1224.3,988.2 L1226,990.3 L1227.7,992 L1229.3,993.9 L1231,995.6 L1232.7,996.9 L1234.3,998.9 L1236,1000 L1237.7,1000.3 L1239.3,1000.9 L1241,1001.7 L1242.7,1002.1 L1244.4,1003.2 L1246,1003.6 L1247.7,1004.6 L1249.4,1006.3 L1251,1007.8 L1252.7,1009.6 L1254.4,1011.5 L1256,1013.3 L1257.7,1014.5 L1259.4,1016.5 L1261.1,1017.8 L1262.7,1018.4 L1264.4,1019.3 L1265.8,1021 L1267.2,1022.6 L1268.6,1024.1 L1270,1026.2 L1271,1027.8 L1272.1,1029.5 L1273.1,1031.3 L1274.2,1033.4 L1275.2,1034.7 L1276.2,1036.7 L1277.3,1038.9 L1278.3,1040.5 L1280.1,1041.7 L1281.8,1042.7 L1283.6,1044 L1285.4,1045.6 L1287.2,1046.6 L1288.9,1047.7 L1290.7,1049.8 L1291.9,1051.6 L1293,1053.5 L1294.2,1055.3 L1295.3,1057.1 L1296.5,1059 L1297.6,1060.8 L1298.8,1062.6 L1299.9,1064.5 L1301.1,1066.3 L1302,1068.1 L1302.9,1070 L1303.9,1071.8 L1304.8,1073.7 L1305.7,1075.5 L1306.6,1077.4 L1307.6,1079.2 L1308.5,1081.1 L1309.4,1082.9 L1311.2,1084 L1313,1085 L1314.8,1086 L1316.6,1087.1 L1318.1,1088.7 L1319.6,1090.4 L1321.1,1092 L1322.5,1093.6 L1324,1095.2 L1325.5,1096.9 L1327,1098.5 L1327.7,1100.4 L1328.3,1102.4 L1329,1104.3 L1329.6,1106.2 L1330.2,1108.2 L1330.9,1110.1 L1331.5,1112.1 L1332.2,1114 L1333.7,1115.5 L1335.2,1117 L1336.7,1118.5 L1338.1,1119.9 L1339.6,1121.4 L1341.1,1122.9 L1342.6,1124.4 L1343.8,1126.3 L1345,1128.3 L1346.2,1130.2 L1347.3,1132.1 L1348.5,1134 L1349.7,1136 L1350.9,1137.9 L1351.9,1139.7 L1353,1141.4 L1354,1143.2 L1355,1145 L1356,1146.8 L1357.1,1148.5 L1358.1,1150.3 L1358.6,1152.3 L1359.1,1154.3 L1359.6,1156.2 L1360,1158.2 L1360.5,1160.2 L1361,1162.2 L1361.5,1164.2 L1362,1166.1 L1362.5,1168.1 L1363,1170.1 L1363.5,1172.1 L1363.9,1174.1 L1364.4,1176 L1364.9,1178 L1365.4,1180 L1366.6,1181.7 L1367.8,1183.3 L1369.1,1185 L1370.3,1186.7 L1371.5,1188.3 L1372.7,1190 L1373.9,1191.7 L1375.1,1193.3 L1376.3,1195 L1377.6,1196.7 L1378.8,1198.3 L1380,1200 L1381.2,1201.6 L1382.5,1203.3 L1383.7,1204.9 L1384.9,1206.5 L1386.2,1208.2 L1387.4,1209.8 L1388.7,1211.5 L1389.9,1213.1 L1391.1,1214.7 L1392.4,1216.4 L1393.6,1218 L1394.6,1219.7 L1395.6,1221.5 L1396.6,1223.2 L1397.5,1225 L1398.5,1226.7 L1399.5,1228.5 L1400.5,1230.2 L1401.5,1232 L1402.5,1233.7 L1403.4,1235.5 L1404.4,1237.2 L1405.4,1239 L1406.4,1240.7 L1407.4,1242.5 L1408.4,1244.2 L1409.3,1246 L1410.3,1247.7 L1411.3,1249.5 L1412.3,1251.2 L1413,1253.2 L1413.6,1255.1 L1414.3,1257.1 L1414.9,1259.1 L1415.6,1261 L1416.2,1263 L1416.9,1264.9 L1417.5,1266.9 L1418.2,1268.9 L1418.8,1270.8 L1419.5,1272.8 L1420.2,1274.8 L1420.8,1276.7 L1421.5,1278.7 L1422.1,1280.7 L1422.8,1282.6 L1423.4,1284.6 L1424.1,1286.5 L1424.7,1288.5 L1425.4,1290.5 L1426,1292.4 L1426.7,1294.4 L1427.6,1296.4 L1428.4,1298.3 L1429.3,1300.3 L1430.2,1302.3 L1431,1304.2 L1431.9,1306.2 L1432.8,1308.2 L1433.7,1310.2 L1434.5,1312.1 L1435.4,1314.1 L1436.3,1316.1 L1437.1,1318 L1438,1320 L1438.8,1321.8 L1439.7,1323.6 L1440.5,1325.5 L1441.4,1327.3 L1442.2,1329.1 L1443.1,1330.9 L1443.9,1332.7 L1444.8,1334.6 L1445.6,1336.4 L1446.5,1338.2 L1447.3,1340 L1448.2,1341.9 L1449,1343.7 L1449.9,1345.5 L1450.7,1347.3 L1451.6,1349.1 L1452.4,1351 L1453.3,1352.8 L1454.1,1354.6 L1455.1,1356.3 L1456.2,1358 L1457.2,1359.8 L1458.3,1361.5 L1459.3,1363.2 L1460.3,1364.9 L1461.4,1366.6 L1462.4,1368.4 L1463.5,1370.1 L1464.5,1371.8 L1466.8,1370.7 L1469.1,1369.5 L1471.4,1368.4 L1473.1,1370.1 L1474.8,1371.8 L1476.6,1373.6 L1478.3,1375.3 L1479.1,1377.3 L1480,1379.2 L1480.8,1381.2 L1481.6,1383.2 L1482.4,1385.2 L1483.3,1387.1 L1484.1,1389.1 L1485.7,1387.7 L1487.3,1386.3 L1489,1385 L1490.6,1383.6 L1492.2,1382.2 L1493.8,1380.8 L1495.4,1379.4 L1497,1378.1 L1498.6,1376.7 L1500.2,1375.3 L1501.5,1373.8 L1502.9,1372.2 L1504.2,1370.7 L1505.6,1369.2 L1507,1367.6 L1508.3,1366.1 L1509.5,1364.2 L1510.6,1362.3 L1511.8,1360.3 L1512.9,1358.4 L1514,1356.5 L1515.2,1354.6 L1515.8,1352.7 L1516.5,1350.8 L1517.1,1348.8 L1517.8,1346.9 L1518.4,1345 L1519.1,1343.1 L1519.7,1341.1 L1520.4,1339.2 L1521,1337.3 L1521.4,1335.1 L1521.8,1333 L1522.3,1330.8 L1522.7,1328.7 L1523.1,1326.5 L1523.6,1324.3 L1524,1322.2 L1524.4,1320 L1524.8,1318 L1525.1,1316 L1525.5,1314 L1525.9,1312 L1526.3,1310 L1526.6,1308 L1527,1306 L1527.4,1304 L1527.8,1302 L1528.1,1300 L1528.5,1298 L1528.9,1296 L1529.3,1294 L1529.6,1292 L1530,1290 L1530.4,1288 L1530.8,1286 L1531.2,1284 L1531.6,1282 L1532,1280 L1532.4,1278 L1532.8,1276 L1533.2,1274 L1533.6,1272 L1534,1270 L1534.4,1268 L1534.8,1266 L1535.2,1264 L1535.6,1262 L1536,1260 L1536.4,1258 L1536.8,1256 L1537.2,1254 L1537.6,1252 L1538,1250 L1538.4,1248 L1538.8,1246 L1539.2,1244 L1539.6,1242 L1540,1240 L1540.4,1238 L1540.8,1236 L1541.2,1234 L1541.6,1232 L1542,1230 L1542.4,1228 L1542.8,1226 L1543.2,1224 L1543.6,1222 L1544,1220 L1544.4,1218 L1544.8,1216 L1545.2,1214 L1545.6,1212 L1546,1210 L1546.4,1208 L1546.7,1206 L1547.1,1204 L1547.4,1202 L1547.8,1200 L1548.2,1198 L1548.5,1196 L1548.9,1194 L1549.2,1192 L1549.6,1190 L1550,1188 L1550.3,1186 L1550.7,1184 L1551,1182 L1551.4,1180 L1551.8,1178 L1552.1,1176 L1552.5,1174 L1552.8,1172 L1553.2,1170 L1553.6,1168 L1553.9,1166 L1554.3,1164 L1554.6,1162 L1555,1160 L1555.3,1158 L1555.6,1156 L1555.8,1154 L1556.1,1152 L1556.4,1150 L1556.7,1148 L1557,1146 L1557.2,1144 L1557.5,1142 L1557.8,1140 L1558.1,1138 L1558.4,1136 L1558.6,1134 L1558.9,1132 L1559.2,1130 L1559.5,1128 L1559.8,1126 L1560,1124 L1560.3,1122 L1560.6,1120 L1560.9,1118 L1561.2,1116 L1561.4,1114 L1561.7,1112 L1562,1110 L1562.3,1107.9 L1562.7,1105.9 L1563,1103.8 L1563.3,1101.8 L1563.7,1099.7 L1564,1097.7 L1564.3,1095.6 L1564.7,1093.6 L1565,1091.5 L1565.3,1089.4 L1565.7,1087.4 L1566,1085.3 L1566.3,1083.3 L1566.7,1081.2 L1567,1079.2 L1567.3,1077.1 L1567.7,1075.1 L1568,1073 L1568.3,1071 L1568.7,1068.9 L1569,1066.8 L1569.4,1064.8 L1569.8,1062.8 L1570.1,1060.7 L1570.5,1058.7 L1570.8,1056.6 L1571.2,1054.5 L1571.5,1052.5 L1571.8,1050.5 L1572.2,1048.4 L1572.5,1046.3 L1572.9,1044.3 L1573.2,1042.2 L1573.6,1040.2 L1574,1038.2 L1574.3,1036.1 L1574.7,1034 L1575,1032 L1575.4,1029.9 L1575.8,1027.9 L1576.2,1025.8 L1576.6,1023.8 L1577.1,1021.7 L1577.5,1019.6 L1577.9,1017.6 L1578.3,1015.5 L1578.7,1013.5 L1579.1,1011.4 L1579.5,1009.4 L1579.9,1007.3 L1580.4,1005.2 L1580.8,1003.2 L1581.2,1001.1 L1581.6,999.1 L1582,997 L1582.4,995 L1582.8,993 L1583.2,991 L1583.6,989 L1584.1,987 L1584.5,985 L1584.9,983 L1585.3,981 L1585.7,979 L1586.1,977 L1586.5,975 L1586.9,973 L1587.4,971 L1587.8,969 L1588.2,967 L1588.6,965 L1589,963 L1589.6,961.1 L1590.2,959.2 L1590.8,957.2 L1591.5,955.3 L1592.1,953.4 L1592.7,951.5 L1593.3,949.5 L1593.9,947.6 L1594.5,945.7 L1595.2,943.8 L1595.8,941.8 L1596.4,939.9 L1597,938 L1598.4,936.4 L1599.9,934.9 L1601.3,933.3 L1602.7,931.7 L1604.1,930.1 L1605.6,928.6 L1607,927 L1608.7,925.8 L1610.3,924.7 L1612,923.5 L1613.7,922.3 L1615.3,921.2 L1617,920 L1619.5,920.8 L1622,921.5 L1624,921.3 L1626,921.1 L1628,920.8 L1630,920.6 L1632,920.4 L1634,920.2 L1636,919.9 L1638,919.7 L1640,919.5 L1642,919.6 L1644,919.8 L1646,920 L1648,920.3 L1650,920.7 L1652,921.2 L1654,921.5 L1656.1,921.7 L1658.1,921.7 L1660.1,921 L1662.1,920 L1664.1,918.7 L1666.1,917 L1668.1,915.3 L1670.1,913.9 L1672.1,913 L1674.1,913 L1676.1,913.5 L1678.1,914.7 L1680.1,916.1 L1682.1,917.8 L1684.1,919.2 L1686.1,920.8 L1688.2,921.7 L1690.2,922.6 L1692.2,922.8 L1694.2,922.5 L1696.2,921.9 L1698.2,921.3 L1700.2,920.7 L1702.2,920.2 L1704.2,919.9 L1706.2,919.6 L1708.2,919.7 L1710.2,919.8 L1712.2,919.8 L1714.2,919.5 L1716.2,919.2 L1718.3,918.7 L1720.3,918.2 L1722.3,917.5 L1724.3,916.9 L1726.3,916.5 L1728.3,916.5 L1730.3,916.7 L1732.3,917.2 L1734.3,918.4 L1736.3,919.8 L1738.3,921.3 L1740.3,922.6 L1742.3,923.7 L1744.3,924.3 L1746.3,924.6 L1748.4,924.2 L1750.4,923.5 L1752.4,922.7 L1754.4,921.8 L1756.4,920.9 L1758.4,919.9 L1760.4,919.5 L1762.4,919.1 L1764.4,918.9 L1766.4,918.8 L1768.4,918.8 L1770.4,918.6 L1772.4,918.2 L1774.4,918 L1776.4,917.5 L1778.4,916.6 L1780.5,915.8 L1782.5,914.9 L1784.5,914.6 L1786.5,914.3 L1788.5,914.9 L1790.5,915.9 L1792.5,917.5 L1794.5,919 L1796.5,921 L1798.5,922.4 L1800.5,923.8 L1802.5,924.9 L1804.5,924.9 L1806.5,924.4 L1808.5,923.5 L1810.6,922.2 L1812.6,920.6 L1814.6,919.4 L1816.6,918.2 L1818.6,917.2 L1820.6,916.6 L1822.6,916.5 L1824.6,916.5 L1826.6,916.9 L1828.6,917.8 L1830.6,918.4 L1832.6,918.9 L1834.6,919.5 L1836.6,919.9 L1838.6,919.8 L1840.6,919.6 L1842.7,919.5 L1844.7,919.9 L1846.7,920.3 L1848.7,920.7 L1850.7,921.6 L1852.7,922.2 L1854.7,923 L1856.7,923.4 L1858.7,923.9 L1860.7,923.9 L1862.7,923.2 L1864.7,922.2 L1866.7,920.8 L1868.7,919.6 L1870.7,917.9 L1872.8,916.5 L1874.8,915.7 L1876.8,915 L1878.8,915.1 L1880.8,915.4 L1882.8,915.9 L1884.8,916.3 L1886.8,917 L1888.8,917.7 L1890.8,918 L1892.8,918 L1894.8,918 L1896.8,918 L1898.8,918.2 L1900.8,918.3 L1902.9,918.7 L1904.9,919.4 L1906.9,920.5 L1908.9,921.8 L1910.9,922.9 L1912.9,924 L1914.9,924.8 L1916.9,925 L1918.9,924.5 L1920.9,923.5 L1922.9,922.4 L1924.9,920.8 L1926.9,918.9 L1928.9,917.3 L1930.9,915.7 L1932.9,915.1 L1935,914.7 L1937,915 L1939,915.8 L1941,916.8 L1943,918.3 L1945,919.7 L1947,920.9 L1949,922.1 L1951,922.5 L1953,922.6 L1955,922.5 L1957,922 L1959,921.4 L1961,920.9 L1963,920.3 L1965.1,920.3 L1967.1,920.5 L1969.1,920.2 L1971.1,920.3 L1973.1,920.4 L1975.1,920.1 L1977.1,919.8 L1979.1,919.1 L1981.1,918 L1983.1,916.9 L1985.1,916 L1987.1,915 L1989.1,914.5 L1991.1,914.4 L1993.1,914.6 L1995.1,915.3 L1997.2,916.5 L1999.2,917.9 L2001.2,919.2 L2003.2,920.7 L2005.2,921.6 L2007.2,922.4 L2009.2,922.7 L2011.2,922.9 L2013.2,922.6 L2015.2,922.3 L2017.2,922.1 L2019.2,922 L2021.2,921.9 L2023.2,921.7 L2025.2,921.8 L2027.3,921.8 L2029.3,921.8 L2031.3,921.7 L2033.3,921 L2035.3,920.4 L2037.3,919.5 L2039.3,918.3 L2041.3,917.2 L2043.3,915.9 L2045.3,914.9 L2047.3,914.4 L2049.3,914.7 L2051.3,915.5 L2053.3,916.7 L2055.3,918.2 L2057.4,920.2 L2059.4,921.6 L2061.4,923.3 L2063.4,924.2 L2065.4,924.5 L2067.4,924.4 L2069.4,923.4 L2071.4,922.1 L2073.4,920.6 L2075.4,919.1 L2077.4,917.8 L2079.4,917 L2081.4,916.4 L2083.4,916.1 L2085.4,916.3 L2087.4,916.5 L2089.5,917.1 L2091.5,917.3 L2093.5,917.5 L2095.5,917.4 L2097.5,917.5 L2099.5,917.5 L2101.5,917.4 L2103.5,917.1" stroke="#000000" stroke-width="2.4"/>
<path d="M276,919.5 L278,920 L280,920.4 L282,920.2 L284,919.6 L286,918.6 L288,917.7 L290,918.6 L292,919.5 L294,920.9 L296,921.9 L298,921.2 L300,919.9 L302,918.9 L304,918 L306,917.2 L308,917.7 L310,918.8 L312,919.7 L314,920.3 L316,920.1 L318,919.9 L320,919.3 L322,918 L324,917.9 L326,918.8 L328,920.9 L330,922.1 L332,923.7 L334,922.3 L336,920.7 L338,918.7 L340,916.7 L342,917.1 L344,918.5 L346,920 L348,921.9 L350,923.1 L352,920.3 L354,918.3 L356,916.4 L358,914.1 L360,915.6 L362,918.1 L364,920.3 L366,922.6 L368,922.9 L370,920.7 L372,919.3 L374,917.7 L376,916.5 L378,918.3 L380,920.5 L382,922.6 L384,924.6 L386,923.2 L388,920.6 L390,917.9 L392,915.1 L394,914.2 L396,916.6 L398,918.5 L400,921.2 L402,923.7 L404,922.1 L406,919.9 L408,917.5 L410,915 L412,915.6 L414,917.9 L416,920.7 L418,923.4 L420,924.9 L422,923.1 L424,920.8 L426,918.9 L428,917 L430,917.8 L432,919.5 L434,920.4 L436,921.2 L438,921.6 L440,919.9 L442,918.5 L444,918 L446,917.2 L448,917.2 L450,918.1 L452,918.6 L454,919.4 L456,920 L458,919.7 L460,918.9 L462,918.2 L464,917.5 L466,918.7 L468,919.7 L470,921.7 L472,923.9 L474,923.3 L476,921.4 L478,919.3 L480,916.9 L482,915.6 L484,917.9 L486,920.2 L488,921.8 L490,923.6 L492,921.9 L494,919.8 L496,917.3 L498,914.5 L500,914.2 L502,917.2 L504,920.1 L506,922.6 L508,924.5 L510,922.9 L512,920.8 L514,919.2 L516,916.8 L518,917.3 L520,919.7 L522,921.8 L524,923.9 L526,924.1 L528,921.6 L530,919.5 L532,916.9 L534,914.6 L536,916.1 L538,918.3 L540,920.5 L542,922.5 L544,922.4 L546,920.1 L548,918.2 L550,916.6 L552,914.6 L554,917.4 L556,919.9 L558,921.6 L560,923.6 L562,922.7 L564,920.8 L566,919 L568,917.3 L570,917.3 L572,918.8 L574,919.7 L576,921 L578,922 L580,920.5 L582,919.7 L584,918.7 L586,917.6 L588,917.1 L590,918 L592,919.2 L594,920.3 L596,921.4 L598,920.3 L600,919.9 L602,918.5 L604,917.1 L606,917.8 L608,919.5 L610,921.3 L612,923.7 L614,924.9 L616,923 L618,920.8 L620,918.1 L622,914.9 L624,916.5 L626,919.1 L628,921.1 L630,924.1 L632,923.4 L634,920.3 L636,917.8 L638,915.4 L640,913.5 L642,915.9 L644,918.3 L646,920.7 L648,923.6 L650,922.4 L652,920.2 L654,918.7 L656,917 L658,916.1 L660,918.4 L662,920.8 L664,922.5 L666,923.9 L668,922.1 L670,920.3 L672,918.2 L674,916 L676,915.5 L678,917.5 L680,919.5 L682,921.2 L684,922.7 L686,920.7 L688,919.5 L690,917.6 L692,916.2 L694,916.7 L696,919 L698,921.5 L700,923.4 L702,923.9 L704,922 L706,921.1 L708,920.1 L710,918.4 L712,919.3 L714,920.7 L716,922 L718,922.3 L720,922.2 L722,920.5 L724,919 L726,918.3 L728,917.3 L730,917.7 L732,919 L734,919.9 L736,921 L738,921.5 L740,920.4 L742,919.9 L744,918.7 L746,917.8 L748,919 L750,920.7 L752,923.1 L754,925.1 L756,925.9 L758,923.8 L760,921.1 L762,919 L764,916.4 L766,916.5 L768,918.5 L770,921.5 L772,923.6 L774,926.2 L776,923.6 L778,921.3 L780,918.9 L782,916.8 L784,916.1 L786,918.3 L788,920.1 L790,922.5 L792,924.1 L794,923.8 L796,922.2 L798,920.9 L800,920.3 L802,919 L804,920 L806,920.8 L808,922.2 L810,923.3 L812,924.3 L814,922.5 L816,921.5 L818,920.3 L820,918.8 L822,918.2 L824,918.9 L826,920 L828,921.6 L830,923.1 L832,923.4 L834,922.1 L836,921.7 L838,920.4 L840,919.4 L842,919.5 L844,920.9 L846,922.2 L848,923.1 L850,924.3 L852,924.5 L854,923.6 L856,922.3 L858,920.9 L860,919.6 L862,919.2 L864,919.8 L866,920.4 L868,921.2 L870,922.6 L872,922.8 L874,922.2 L876,921.2 L878,920 L880,919.1 L882,919.4 L884,921.1 L886,922.1 L888,923.9 L890,926.1 L892,926.5 L894,925 L896,923.1 L898,921.5 L900,919.1 L902,918.5 L904,920.5 L906,922.3 L908,924.4 L910,925.6 L912,927.1 L914,925.1 L916,923.4 L918,921.6 L920,919.6 L922,918.4 L924,919.5 L926,921.8 L928,923.8 L930,925.5 L932,927 L934,926.6 L936,925.1 L938,924.5 L940,923.7 L942,922.6 L944,922.9 L946,924 L948,924.6 L950,925.5 L952,926 L954,926.4 L956,925.5 L958,924.4 L960,923.3 L962,922.6 L964,921.3 L966,921.5 L968,922.4 L970,923.8 L972,924.7 L974,926.5 L976,927 L978,926.7 L980,925.6 L982,925.2 L984,924.6 L986,924.1 L988,925.1 L990,925.9 L992,927.5 L994,928 L996,929.3 L998,928.9 L1000,927 L1002,926.1 L1004,925.1 L1006,924.6 L1008,923.7 L1010,924.7 L1012,925.1 L1014,925.9 L1016,927.2 L1018,928.9 L1020,929.5 L1022,928.6 L1024,928.6 L1026,928.1 L1028,926.9 L1030,925.9 L1032,926.9 L1034,928.6 L1036,930.2 L1038,932 L1040,933.6 L1042,934.7 L1044,933.1 L1046,931.5 L1048,930 L1050,928.9 L1052,927.1 L1054,926.8 L1056,928.3 L1058,929.5 L1060,931.4 L1062,932.6 L1064,933.8 L1066,933.5 L1068,932.2 L1070,931.3 L1072,931.1 L1074,930.6 L1076,930.5 L1078,932.2 L1080,933.5 L1082,934.6 L1084,934.9 L1086,936 L1088,936.5 L1090,935.5 L1092,935.2 L1094,934.2 L1096,933.5 L1098,932.9 L1100,933.4 L1102,934.2 L1104,935.1 L1106,936.5 L1108,937.4 L1110,938.5 L1112,938.8 L1114,938.8 L1116,939.2 L1118,939.6 L1120,940 L1122,939.5 L1124,940.6 L1126,942.1 L1128,943.8 L1130,944.9 L1132,946.9 L1133.9,948.7 L1135.8,949.1 L1137.7,948.6 L1139.6,947.9 L1141.5,947.7 L1143.4,947.2 L1145.3,946.7 L1147.2,946.6 L1149.1,947.7 L1151,949.2 L1152.9,950.5 L1154.8,951.6 L1156.7,953.1 L1158.6,954.6 L1160.5,954.7 L1162.4,954.5 L1164.3,955 L1166.2,955 L1168.1,955.1 L1170,955.2 L1171.8,955.9 L1173.6,958.2 L1175.4,960.7 L1177.2,962.5 L1179,964.7 L1180.8,966.4 L1182.6,968.3 L1184.4,968.8 L1186.2,968.2 L1188,967.9 L1189.7,967.5 L1191.5,967.3 L1193.3,967 L1195.1,967 L1196.9,968.3 L1198.7,970.5 L1200.5,972.7 L1202.3,974.6 L1204.1,976.3 L1205.9,978.4 L1207.7,980.1 L1209.4,980.8 L1211,981.1 L1212.7,982.3 L1214.4,982.6 L1216,983.9 L1217.7,984.7 L1219.4,986 L1221,986.8 L1222.7,988.6 L1224.3,990 L1226,991.4 L1227.7,992.3 L1229.3,993.5 L1231,994.6 L1232.7,995.9 L1234.3,997 L1236,998 L1237.9,998.4 L1239.8,998.6 L1241.7,999 L1243.6,1000.2 L1245.5,1001 L1247.4,1002.2 L1249.3,1003.9 L1251.2,1005.4 L1253.1,1006.8 L1255,1008.4 L1256.9,1009.3 L1258.8,1010.9 L1260.6,1011.4 L1262.5,1012.7 L1264.4,1013.8 L1266.2,1014.6 L1268.1,1015.1 L1270,1015.4 L1270.8,1017.3 L1271.7,1018.9 L1272.5,1020.9 L1273.3,1022.7 L1274.2,1024.5 L1275,1026.9 L1275.8,1029.2 L1276.6,1031.2 L1277.5,1033.2 L1278.3,1035.4 L1280.4,1036.3 L1282.4,1037.2 L1284.5,1037.5 L1286.6,1037.4 L1288.6,1038.1 L1290.7,1039.4 L1292.2,1040.9 L1293.7,1042.4 L1295.2,1043.9 L1296.6,1045.3 L1298.1,1046.8 L1299.6,1048.3 L1301.1,1049.8 L1301.9,1051.8 L1302.7,1053.7 L1303.5,1055.7 L1304.3,1057.6 L1305.2,1059.6 L1306,1061.5 L1306.8,1063.5 L1307.6,1065.4 L1308.4,1067.4 L1310.5,1068.2 L1312.5,1069 L1314.5,1069.7 L1316.6,1070.5 L1317.8,1072.2 L1319,1074 L1320.2,1075.7 L1321.5,1077.4 L1322.7,1079.2 L1323.9,1080.9 L1324.9,1083 L1326,1085 L1327,1087.1 L1328,1089.2 L1329.1,1091.2 L1330.1,1093.3 L1331.4,1094.8 L1332.7,1096.4 L1334,1098 L1335.3,1099.5 L1336.6,1101 L1337.9,1102.6 L1339.2,1104.2 L1340.5,1105.7 L1341.7,1107.6 L1342.9,1109.6 L1344.1,1111.5 L1345.2,1113.4 L1346.4,1115.3 L1347.6,1117.3 L1348.8,1119.2 L1350,1120.9 L1351.1,1122.6 L1352.3,1124.3 L1353.4,1126 L1354.6,1127.6 L1355.8,1129.3 L1356.9,1131 L1358.1,1132.7 L1359,1134.8 L1359.8,1136.8 L1360.7,1138.9 L1361.6,1141 L1362.4,1143 L1363.3,1145.1 L1364.3,1147 L1365.4,1149 L1366.4,1151 L1367.4,1152.9 L1368.5,1154.8 L1369.5,1156.8 L1370.6,1158.8 L1371.6,1160.7 L1372.3,1162.6 L1373,1164.6 L1373.8,1166.5 L1374.5,1168.4 L1375.2,1170.3 L1375.9,1172.3 L1376.6,1174.2 L1377.4,1176.1 L1378.1,1178.1 L1378.8,1180 L1379.5,1181.9 L1380.3,1183.8 L1381,1185.7 L1381.8,1187.6 L1382.5,1189.5 L1383.2,1191.4 L1384,1193.3 L1384.7,1195.2 L1385.5,1197.1 L1386.2,1199 L1386.9,1201 L1387.7,1202.9 L1388.4,1204.8 L1389.2,1206.7 L1389.9,1208.6 L1390.6,1210.5 L1391.4,1212.4 L1392.1,1214.3 L1392.9,1216.2 L1393.6,1218.1 L1394.6,1219.8 L1395.6,1221.6 L1396.6,1223.3 L1397.5,1225.1 L1398.5,1226.8 L1399.5,1228.6 L1400.5,1230.3 L1401.5,1232 L1402.5,1233.8 L1403.4,1235.5 L1404.4,1237.3 L1405.4,1239 L1406.4,1240.7 L1407.4,1242.5 L1408.4,1244.2 L1409.3,1246 L1410.3,1247.7 L1411.3,1249.5 L1412.3,1251.2 L1413,1253.2 L1413.6,1255.1 L1414.3,1257.1 L1414.9,1259.1 L1415.6,1261 L1416.2,1263 L1416.9,1264.9 L1417.5,1266.9 L1418.2,1268.9 L1418.8,1270.8 L1419.5,1272.8 L1420.2,1274.8 L1420.8,1276.7 L1421.5,1278.7 L1422.1,1280.7 L1422.8,1282.6 L1423.4,1284.6 L1424.1,1286.5 L1424.7,1288.5 L1425.4,1290.5 L1426,1292.4 L1426.7,1294.4 L1427.6,1296.2 L1428.5,1298.1 L1429.4,1299.9 L1430.3,1301.7 L1431.2,1303.5 L1432.1,1305.4 L1433,1307.2 L1433.8,1309 L1434.7,1310.9 L1435.6,1312.7 L1436.5,1314.5 L1437.4,1316.3 L1438.3,1318.2 L1439.2,1320 L1440,1321.9 L1440.9,1323.8 L1441.7,1325.8 L1442.6,1327.7 L1443.4,1329.6 L1444.2,1331.5 L1445.1,1333.4 L1445.9,1335.4 L1446.8,1337.3 L1447.6,1339.2 L1448.4,1341.1 L1449.3,1343 L1450.1,1345 L1451,1346.9 L1451.8,1348.8 L1453.2,1350.8 L1454.7,1352.8 L1456.1,1354.9 L1457.6,1356.9 L1458.8,1358.8 L1459.9,1360.7 L1461,1362.7 L1462.2,1364.6 L1463.3,1366.5 L1464.5,1368.4 L1465.3,1370.6 L1466.2,1372.8 L1467,1375 L1469.2,1375.4 L1471.4,1375.8 L1473.6,1376.2 L1475.8,1376.6 L1478,1377 L1478.5,1379.2 L1479,1381.3 L1479.5,1383.5 L1480,1385.7 L1480.5,1387.8 L1481,1390 L1481.7,1392.2 L1482.4,1394.3 L1483.2,1396.5 L1483.9,1398.7 L1484.6,1400.8 L1485.3,1403 L1486.7,1401.1 L1488.1,1399.3 L1489.4,1397.4 L1490.8,1395.6 L1492.2,1393.7 L1493.7,1392 L1495.3,1390.3 L1496.8,1388.6 L1498.3,1386.8 L1499.9,1385.1 L1501.4,1383.4 L1502.6,1381.7 L1503.7,1379.9 L1504.8,1378.2 L1506,1376.5 L1507.2,1374.7 L1508.3,1373 L1509.4,1371.2 L1510.6,1369.5 L1511.4,1367.6 L1512.3,1365.7 L1513.1,1363.9 L1513.9,1362 L1514.8,1360.1 L1515.6,1358.2 L1516.5,1356.3 L1517.3,1354.4 L1518.1,1352.6 L1519,1350.7 L1519.8,1348.8 L1520.4,1346.9 L1521,1345 L1521.5,1343 L1522.1,1341.1 L1522.7,1339.2 L1523.2,1337.3 L1523.8,1335.4 L1524.4,1333.5 L1525,1331.5 L1525.5,1329.6 L1526.1,1327.7 L1526.7,1325.8 L1527,1323.8 L1527.3,1321.8 L1527.6,1319.8 L1527.9,1317.8 L1528.2,1315.9 L1528.5,1313.9 L1528.8,1311.9 L1529.1,1309.9 L1529.3,1307.9 L1529.6,1305.9 L1529.9,1303.9 L1530.2,1301.9 L1530.5,1299.9 L1530.8,1298 L1531.1,1296 L1531.4,1294 L1531.7,1292 L1532,1290 L1532.4,1288 L1532.8,1286 L1533.2,1284 L1533.6,1282 L1534,1280 L1534.4,1278 L1534.8,1276 L1535.2,1274 L1535.6,1272 L1536,1270 L1536.4,1268 L1536.8,1266 L1537.2,1264 L1537.6,1262 L1538,1260 L1538.4,1258 L1538.8,1256 L1539.2,1254 L1539.6,1252 L1540,1250 L1540.4,1248 L1540.8,1246 L1541.2,1244 L1541.6,1242 L1542,1240 L1542.4,1238 L1542.8,1236 L1543.2,1234 L1543.6,1232 L1544,1230 L1544.4,1228 L1544.8,1226 L1545.2,1224 L1545.6,1222 L1546,1220 L1546.4,1218 L1546.8,1216 L1547.2,1214 L1547.6,1212 L1548,1210 L1548.4,1208 L1548.7,1206 L1549.1,1204 L1549.4,1202 L1549.8,1200 L1550.2,1198 L1550.5,1196 L1550.9,1194 L1551.2,1192 L1551.6,1190 L1552,1188 L1552.3,1186 L1552.7,1184 L1553,1182 L1553.4,1180 L1553.8,1178 L1554.1,1176 L1554.5,1174 L1554.8,1172 L1555.2,1170 L1555.6,1168 L1555.9,1166 L1556.3,1164 L1556.6,1162 L1557,1160 L1557.3,1158 L1557.6,1156 L1557.8,1154 L1558.1,1152 L1558.4,1150 L1558.7,1148 L1559,1146 L1559.2,1144 L1559.5,1142 L1559.8,1140 L1560.1,1138 L1560.4,1136 L1560.6,1134 L1560.9,1132 L1561.2,1130 L1561.5,1128 L1561.8,1126 L1562,1124 L1562.3,1122 L1562.6,1120 L1562.9,1118 L1563.2,1116 L1563.4,1114 L1563.7,1112 L1564,1110 L1564.3,1107.9 L1564.7,1105.9 L1565,1103.8 L1565.3,1101.8 L1565.7,1099.7 L1566,1097.7 L1566.3,1095.6 L1566.7,1093.6 L1567,1091.5 L1567.3,1089.4 L1567.7,1087.4 L1568,1085.3 L1568.3,1083.3 L1568.7,1081.2 L1569,1079.2 L1569.3,1077.1 L1569.7,1075.1 L1570,1073 L1570.3,1071 L1570.7,1068.9 L1571,1066.8 L1571.4,1064.8 L1571.8,1062.8 L1572.1,1060.7 L1572.5,1058.7 L1572.8,1056.6 L1573.2,1054.5 L1573.5,1052.5 L1573.8,1050.5 L1574.2,1048.4 L1574.5,1046.3 L1574.9,1044.3 L1575.2,1042.2 L1575.6,1040.2 L1576,1038.2 L1576.3,1036.1 L1576.7,1034 L1577,1032 L1577.4,1029.9 L1577.8,1027.9 L1578.2,1025.8 L1578.6,1023.8 L1579.1,1021.7 L1579.5,1019.6 L1579.9,1017.6 L1580.3,1015.5 L1580.7,1013.5 L1581.1,1011.4 L1581.5,1009.4 L1581.9,1007.3 L1582.4,1005.2 L1582.8,1003.2 L1583.2,1001.1 L1583.6,999.1 L1584,997 L1584.4,995 L1584.8,993 L1585.2,991 L1585.6,989 L1586.1,987 L1586.5,985 L1586.9,983 L1587.3,981 L1587.7,979 L1588.1,977 L1588.5,975 L1588.9,973 L1589.4,971 L1589.8,969 L1590.2,967 L1590.6,965 L1591,963 L1591.6,961.1 L1592.2,959.2 L1592.8,957.2 L1593.5,955.3 L1594.1,953.4 L1594.7,951.5 L1595.3,949.5 L1595.9,947.6 L1596.5,945.7 L1597.2,943.8 L1597.8,941.8 L1598.4,939.9 L1599,938 L1600.3,936.4 L1601.6,934.9 L1602.9,933.3 L1604.1,931.7 L1605.4,930.1 L1606.7,928.6 L1608,927 L1610,925.7 L1612,924.4 L1614,923.1 L1616,921.8 L1618,920.5 L1620,920.4 L1622,920.3 L1624,920.2 L1626,920.1 L1628,920 L1630,920 L1632,919.9 L1634,919.8 L1636,919.7 L1638,919.6 L1640,919.5 L1642,919.6 L1644,919.8 L1646,919.8 L1648,920 L1650,920.3 L1652,920.5 L1654,920.9 L1656.1,921 L1658.1,920.9 L1660.1,920.6 L1662.1,919.9 L1664.1,919.2 L1666.1,918 L1668.1,916.6 L1670.1,915.6 L1672.1,915.2 L1674.1,914.8 L1676.1,915 L1678.1,915.5 L1680.1,916.7 L1682.1,917.8 L1684.1,918.8 L1686.1,919.8 L1688.2,920.5 L1690.2,921.1 L1692.2,921.1 L1694.2,921.3 L1696.2,921 L1698.2,920.7 L1700.2,920.4 L1702.2,920.2 L1704.2,920.4 L1706.2,920.5 L1708.2,920.3 L1710.2,920.5 L1712.2,920.4 L1714.2,920 L1716.2,919.4 L1718.3,918.7 L1720.3,917.6 L1722.3,916.9 L1724.3,915.9 L1726.3,915.4 L1728.3,915.3 L1730.3,915.7 L1732.3,916.5 L1734.3,917.9 L1736.3,919.5 L1738.3,921.1 L1740.3,922.8 L1742.3,924 L1744.3,924.7 L1746.3,925.2 L1748.4,925 L1750.4,924.1 L1752.4,923 L1754.4,921.9 L1756.4,920.7 L1758.4,919.5 L1760.4,918.5 L1762.4,918.3 L1764.4,918.2 L1766.4,918.3 L1768.4,918.5 L1770.4,918.7 L1772.4,918.8 L1774.4,918.9 L1776.4,918.4 L1778.4,918 L1780.5,917.1 L1782.5,916.5 L1784.5,916.1 L1786.5,915.6 L1788.5,915.7 L1790.5,916.5 L1792.5,917.5 L1794.5,918.8 L1796.5,920 L1798.5,921.1 L1800.5,922.3 L1802.5,923.3 L1804.5,923.6 L1806.5,923.4 L1808.5,922.7 L1810.6,922.2 L1812.6,921.2 L1814.6,920.1 L1816.6,919.2 L1818.6,918.5 L1820.6,918 L1822.6,917.9 L1824.6,917.9 L1826.6,918.2 L1828.6,918.3 L1830.6,918.3 L1832.6,918.4 L1834.6,918.6 L1836.6,918.8 L1838.6,918.8 L1840.6,918.8 L1842.7,919.2 L1844.7,919.5 L1846.7,920.1 L1848.7,920.9 L1850.7,921.7 L1852.7,922.9 L1854.7,923.8 L1856.7,924.3 L1858.7,924.3 L1860.7,924 L1862.7,923.3 L1864.7,922.1 L1866.7,920.5 L1868.7,918.9 L1870.7,917.2 L1872.8,916 L1874.8,915.1 L1876.8,914.6 L1878.8,914.6 L1880.8,914.9 L1882.8,915.7 L1884.8,916.5 L1886.8,917.4 L1888.8,918.3 L1890.8,919.1 L1892.8,919.3 L1894.8,919.2 L1896.8,919.2 L1898.8,919.1 L1900.8,919.1 L1902.9,919.3 L1904.9,919.2 L1906.9,919.8 L1908.9,920.4 L1910.9,921.4 L1912.9,922.2 L1914.9,923.2 L1916.9,923.4 L1918.9,923.3 L1920.9,922.9 L1922.9,922 L1924.9,920.9 L1926.9,919.8 L1928.9,918.4 L1930.9,917.4 L1932.9,916.6 L1935,915.9 L1937,915.8 L1939,916.1 L1941,916.9 L1943,917.9 L1945,918.8 L1947,919.8 L1949,920.4 L1951,921.1 L1953,921.4 L1955,921.7 L1957,921.7 L1959,921.7 L1961,921.4 L1963,921.6 L1965.1,921.5 L1967.1,921.4 L1969.1,921.6 L1971.1,921.3 L1973.1,920.8 L1975.1,920.5 L1977.1,919.7 L1979.1,918.8 L1981.1,917.6 L1983.1,916.4 L1985.1,915.3 L1987.1,914.6 L1989.1,914.1 L1991.1,914 L1993.1,914.5 L1995.1,915.6 L1997.2,917.1 L1999.2,918.4 L2001.2,920.2 L2003.2,921.6 L2005.2,922.5 L2007.2,922.9 L2009.2,923.2 L2011.2,922.8 L2013.2,922.3 L2015.2,921.6 L2017.2,921 L2019.2,920.6 L2021.2,920.2 L2023.2,920.2 L2025.2,920.2 L2027.3,920.4 L2029.3,920.7 L2031.3,921 L2033.3,921.3 L2035.3,920.8 L2037.3,920.1 L2039.3,919.2 L2041.3,918.2 L2043.3,917 L2045.3,916.2 L2047.3,915.8 L2049.3,915.5 L2051.3,915.8 L2053.3,916.4 L2055.3,917.6 L2057.4,918.9 L2059.4,920.3 L2061.4,921.5 L2063.4,922.4 L2065.4,923.2 L2067.4,923.4 L2069.4,923.1 L2071.4,922.5 L2073.4,921.5 L2075.4,920.4 L2077.4,919.1 L2079.4,918.3 L2081.4,917.9 L2083.4,917.4 L2085.4,917.2 L2087.4,917 L2089.5,917.1 L2091.5,917.2 L2093.5,917.1 L2095.5,916.9 L2097.5,916.8 L2099.5,916.8 L2101.5,916.9 L2103.5,917.1" stroke="#b02323" stroke-width="2.5"/>
<path d="M276,919.5 L278,919.7 L280,919.9 L282,920.3 L284,920.2 L286,919.5 L288,919 L290,917.6 L292,917.5 L294,918.2 L296,919.6 L298,921 L300,921.7 L302,920.2 L304,918.3 L306,916.6 L308,914.9 L310,917.3 L312,919.3 L314,921.8 L316,924.6 L318,923.8 L320,922 L322,919.6 L324,916.8 L326,915.6 L328,918 L330,919.8 L332,921.6 L334,923.6 L336,921.6 L338,919.5 L340,917.2 L342,914.7 L344,914.9 L346,916.6 L348,918.4 L350,920.9 L352,922.5 L354,920.9 L356,919.4 L358,917.6 L360,915.7 L362,916.6 L364,918.9 L366,920.9 L368,923.6 L370,924.6 L372,921.9 L374,919.8 L376,918 L378,915.8 L380,916.9 L382,918.7 L384,920.2 L386,922.1 L388,921.9 L390,919.4 L392,917.4 L394,915.8 L396,915.2 L398,917.2 L400,918.9 L402,919.9 L404,920.9 L406,921.3 L408,920.4 L410,919.4 L412,919 L414,918.9 L416,919.8 L418,920.5 L420,921.1 L422,922 L424,921.3 L426,920.3 L428,918.8 L430,917 L432,916.8 L434,917.6 L436,919.3 L438,920.9 L440,922.9 L442,921.3 L444,919.3 L446,917.1 L448,914.3 L450,914.7 L452,917.9 L454,920.7 L456,923.3 L458,925.5 L460,922.9 L462,919.9 L464,917.5 L466,914.7 L468,916.9 L470,919 L472,921.8 L474,923.9 L476,923.4 L478,920.6 L480,918.7 L482,916.7 L484,914.6 L486,916.2 L488,917.9 L490,919.4 L492,921.7 L494,921.6 L496,919.8 L498,918.4 L500,917.3 L502,916.9 L504,918.5 L506,920 L508,922.4 L510,924.1 L512,922.6 L514,921.2 L516,918.9 L518,917 L520,916.8 L522,918.2 L524,919.7 L526,921 L528,922.4 L530,920.4 L532,918.5 L534,917.4 L536,915.7 L538,916.3 L540,917.9 L542,919 L544,920.3 L546,921.4 L548,921 L550,920 L552,919.3 L554,918.1 L556,918.9 L558,919.8 L560,920.9 L562,921.9 L564,921.9 L566,921 L568,919.7 L570,917.7 L572,915.5 L574,916.3 L576,917.6 L578,919.4 L580,922.1 L582,921.8 L584,919.4 L586,917.4 L588,915.1 L590,913.9 L592,917.3 L594,919.9 L596,923.3 L598,926.7 L600,925.1 L602,921.7 L604,919.2 L606,916.7 L608,915.8 L610,918.8 L612,921.3 L614,922.7 L616,924.4 L618,922.1 L620,919.9 L622,917.2 L624,915.7 L626,915.7 L628,917.1 L630,919.3 L632,920.8 L634,921.4 L636,920 L638,919.1 L640,917.8 L642,917.1 L644,918.3 L646,919.7 L648,921.3 L650,922.6 L652,923.5 L654,921.6 L656,920.3 L658,918.6 L660,916.9 L662,917.8 L664,919.2 L666,920.2 L668,921.8 L670,921.3 L672,919.9 L674,917.9 L676,916.1 L678,915.9 L680,917.2 L682,918.6 L684,920.3 L686,921.8 L688,921.8 L690,920.3 L692,919.7 L694,918.6 L696,918.2 L698,919.4 L700,921.2 L702,922.2 L704,923.3 L706,921.6 L708,920.1 L710,918.5 L712,916.5 L714,916.2 L716,917.9 L718,920.2 L720,922.6 L722,924.2 L724,921.5 L726,919.6 L728,916.9 L730,914.2 L732,914.7 L734,917.5 L736,920.5 L738,923.8 L740,926 L742,923.9 L744,921.1 L746,918.8 L748,915.8 L750,916.2 L752,919.1 L754,921 L756,922.5 L758,923.5 L760,922.1 L762,920.2 L764,918.2 L766,916.8 L768,916.2 L770,918.1 L772,919.3 L774,920.1 L776,921.3 L778,920.9 L780,920.5 L782,919.6 L784,919.2 L786,918.8 L788,919.4 L790,920.6 L792,921.9 L794,923.3 L796,924.2 L798,923.3 L800,921.8 L802,920.3 L804,918.5 L806,917.7 L808,918.9 L810,920.3 L812,921.2 L814,922.7 L816,921.9 L818,920.5 L820,919.3 L822,918.7 L824,917.5 L826,918.7 L828,919.7 L830,921.4 L832,922.7 L834,924.3 L836,923.1 L838,921.9 L840,921.2 L842,920 L844,918.6 L846,919.8 L848,920.6 L850,922.1 L852,923.2 L854,923.7 L856,921.9 L858,920.7 L860,919.2 L862,917 L864,916 L866,917.9 L868,919.6 L870,921.9 L872,923.9 L874,925.2 L876,923.5 L878,921.8 L880,920.5 L882,918.6 L884,917.6 L886,919.4 L888,920.8 L890,922.5 L892,923.9 L894,925.1 L896,923.5 L898,922.3 L900,921 L902,919.2 L904,918.6 L906,919.2 L908,920.4 L910,920.8 L912,921.7 L914,922.6 L916,922.4 L918,921.8 L920,921.6 L922,921.8 L924,921.5 L926,921.6 L928,922.6 L930,923.7 L932,924.5 L934,925.6 L936,925.7 L938,925.2 L940,924.5 L942,923.2 L944,921.8 L946,920.8 L948,921.2 L950,922.4 L952,923.4 L954,924.5 L956,926.1 L958,926.2 L960,924.7 L962,923.5 L964,922.3 L966,921.2 L968,920.7 L970,922.1 L972,923.5 L974,925 L976,927 L978,928.2 L980,928 L982,926.8 L984,925.9 L986,924.6 L988,922.8 L990,922.2 L992,923.2 L994,924.1 L996,925.3 L998,926.5 L1000,927.1 L1002,926.1 L1004,925.6 L1006.1,924.7 L1008.1,923.5 L1010.1,922.6 L1012.1,922.4 L1014.2,924.5 L1016.2,926.3 L1018.2,928.5 L1020.2,930.5 L1022.3,931.8 L1024.3,931.1 L1026.3,930.1 L1028.3,928.5 L1030.4,927.2 L1032.4,925.9 L1034.4,926.4 L1036.5,927.5 L1038.5,928.2 L1040.5,928.9 L1042.5,929.9 L1044.5,930.2 L1046.6,929.9 L1048.6,929 L1050.6,928.7 L1052.7,928.7 L1054.7,928.1 L1056.7,928.6 L1058.7,929 L1060.7,929.5 L1062.8,930.8 L1064.8,931.4 L1066.8,932.3 L1068.8,933.1 L1070.8,932.6 L1072.9,932.6 L1074.9,932.3 L1076.9,931.2 L1078.9,930.2 L1081,931.2 L1083,932.3 L1085,933.1 L1087,934 L1089,934.9 L1091.1,935.8 L1093.1,934.1 L1095.1,932.9 L1097.1,931.7 L1099.2,931 L1101.2,930.4 L1103.2,930.2 L1105.2,931.5 L1107.2,932.8 L1109.3,934.9 L1111.3,936.4 L1113.3,937.7 L1115.4,938 L1117.5,937 L1119.6,935.9 L1121.7,934.9 L1123.8,934.5 L1125.9,934 L1128,934.5 L1130.1,935.6 L1132.2,936.7 L1134.2,937 L1136.3,937.6 L1138.4,937.9 L1140.5,936.8 L1142.6,936 L1144.7,935.3 L1146.8,934 L1148.9,932.7 L1151,933 L1153,934.9 L1155,936.1 L1157,938 L1159,939.7 L1161,941.6 L1163,942 L1165,941.1 L1167,940.6 L1169,939.9 L1170.9,939.3 L1172.9,939 L1174.9,939.4 L1176.9,940.6 L1178.9,940.8 L1180.9,941.5 L1182.9,942 L1184.9,942.5 L1186.9,942.4 L1188.9,942 L1190.9,942 L1192.9,942 L1194.9,942.5 L1196.8,943.3 L1198.8,943.9 L1200.8,944.5 L1202.8,945.5 L1204.8,946.7 L1206.8,948.4 L1208.7,949.2 L1210.7,950.3 L1212.7,951.6 L1214.7,951.7 L1216.7,951.6 L1218.7,951.7 L1220.6,951.2 L1222.6,951.3 L1224.6,951.7 L1226.6,952.3 L1228.5,953.6 L1230.4,955.3 L1232.3,956.4 L1234.2,957.5 L1236,959.3 L1237.9,959.3 L1239.8,959.1 L1241.7,959.7 L1243.6,960.4 L1245.5,960.9 L1247.4,961.6 L1249.3,962.2 L1251.2,964.1 L1253.1,965.4 L1255,966.9 L1256.8,968 L1258.7,969.2 L1260.6,970.6 L1262.5,971.2 L1264.4,972.2 L1266.2,972.8 L1267.9,974 L1269.7,974.4 L1271.5,975.4 L1273.2,976.1 L1275,976.7 L1276.8,978.1 L1278.6,979.5 L1280.3,980.5 L1282.1,981.8 L1283.9,983 L1285.6,984.6 L1287.4,985.5 L1289.2,986.3 L1290.9,988.3 L1292.7,989.5 L1293.3,991.6 L1294,993.7 L1294.6,995.8 L1295.3,997.9 L1295.9,1000 L1296.5,1002 L1297.2,1004 L1297.8,1006 L1298.5,1008 L1299.1,1010 L1299.7,1012 L1300.4,1013.9 L1301,1015.9 L1301.6,1017.9 L1302.3,1019.9 L1302.9,1021.9 L1303.6,1023.9 L1304.2,1025.9 L1305,1027.8 L1305.9,1029.7 L1306.7,1031.5 L1307.6,1033.4 L1308.4,1035.3 L1309.3,1037.2 L1310.1,1039.1 L1311,1041 L1311.8,1042.8 L1312.7,1044.7 L1313.5,1046.6 L1314.5,1048.5 L1315.6,1050.5 L1316.6,1052.5 L1317.7,1054.4 L1318.7,1056.3 L1319.7,1058.3 L1320.8,1060.2 L1321.8,1062.2 L1322.5,1064.2 L1323.2,1066.1 L1323.9,1068.1 L1324.6,1070.1 L1325.3,1072 L1326,1074 L1326.7,1076 L1327.4,1078 L1328.1,1080 L1328.8,1082 L1329.5,1084 L1330.2,1086 L1330.8,1088 L1331.5,1090 L1332.2,1092 L1332.9,1094 L1333.6,1096 L1334.3,1098 L1335,1100 L1335.7,1101.9 L1336.4,1103.8 L1337.1,1105.7 L1337.9,1107.6 L1338.6,1109.5 L1339.3,1111.4 L1340,1113.3 L1340.7,1115.2 L1341.4,1117.1 L1342.1,1119 L1342.9,1121 L1343.6,1122.9 L1344.3,1124.8 L1345,1126.7 L1345.7,1128.6 L1346.4,1130.5 L1347.1,1132.4 L1347.9,1134.3 L1348.6,1136.2 L1349.3,1138.1 L1350,1140 L1350.9,1141.8 L1351.8,1143.6 L1352.7,1145.5 L1353.5,1147.3 L1354.4,1149.1 L1355.3,1150.9 L1356.2,1152.7 L1357.1,1154.5 L1358,1156.4 L1358.9,1158.2 L1359.8,1160 L1360.6,1161.8 L1361.5,1163.6 L1362.4,1165.5 L1363.3,1167.3 L1364.2,1169.1 L1365.1,1170.9 L1366,1172.7 L1366.8,1174.5 L1367.7,1176.4 L1368.6,1178.2 L1369.5,1180 L1370.6,1181.8 L1371.7,1183.6 L1372.8,1185.4 L1373.9,1187.1 L1375,1188.9 L1376.1,1190.7 L1377.2,1192.5 L1378.4,1194.3 L1379.5,1196.1 L1380.6,1197.9 L1381.7,1199.6 L1382.8,1201.4 L1383.9,1203.2 L1385,1205 L1386,1206.8 L1387,1208.6 L1388,1210.4 L1389,1212.2 L1390,1214 L1391,1215.8 L1392,1217.6 L1393,1219.4 L1394,1221.2 L1395,1223 L1396,1224.8 L1397,1226.6 L1398,1228.4 L1399,1230.2 L1400,1232 L1400.9,1233.8 L1401.8,1235.7 L1402.8,1237.5 L1403.7,1239.4 L1404.6,1241.2 L1405.5,1243.1 L1406.5,1244.9 L1407.4,1246.8 L1408.3,1248.6 L1409.2,1250.5 L1410.2,1252.3 L1411.1,1254.2 L1412,1256 L1412.7,1257.9 L1413.3,1259.8 L1414,1261.7 L1414.7,1263.6 L1415.3,1265.4 L1416,1267.3 L1416.7,1269.2 L1417.3,1271.1 L1418,1273 L1418.7,1274.9 L1419.3,1276.8 L1420,1278.7 L1420.7,1280.6 L1421.3,1282.4 L1422,1284.3 L1422.7,1286.2 L1423.3,1288.1 L1424,1290 L1424.6,1292 L1425.3,1294 L1425.9,1296 L1426.5,1298 L1427.1,1300 L1427.8,1302 L1428.4,1304 L1429,1306 L1429.6,1308 L1430.3,1310 L1430.9,1312 L1431.5,1314 L1432.1,1316 L1432.8,1318 L1433.4,1320 L1434,1321.9 L1434.6,1323.8 L1435.2,1325.8 L1435.9,1327.7 L1436.5,1329.6 L1437.1,1331.5 L1437.7,1333.4 L1438.3,1335.4 L1438.9,1337.3 L1439.5,1339.2 L1440.1,1341.1 L1440.8,1343 L1441.4,1345 L1442,1346.9 L1442.6,1348.8 L1443.2,1350.7 L1443.8,1352.7 L1444.3,1354.6 L1444.9,1356.6 L1445.5,1358.5 L1446,1360.5 L1446.6,1362.4 L1447.2,1364.3 L1447.8,1366.3 L1448.3,1368.2 L1448.9,1370.2 L1449.5,1372.1 L1450.1,1374.1 L1450.6,1376 L1451.2,1378 L1451.8,1379.9 L1452.6,1381.8 L1453.4,1383.7 L1454.2,1385.5 L1455,1387.4 L1455.8,1389.3 L1456.6,1391.2 L1457.4,1393 L1458.2,1394.9 L1458.9,1396.8 L1459.7,1398.7 L1460.5,1400.5 L1461.3,1402.4 L1462.1,1404.3 L1462.9,1406.2 L1463.7,1408 L1464.5,1409.9 L1465.4,1411.7 L1466.4,1413.4 L1467.3,1415.2 L1468.3,1417 L1469.2,1418.8 L1470.2,1420.5 L1471.1,1422.3 L1472.1,1424.1 L1473,1425.9 L1474,1427.6 L1474.9,1429.4 L1475.8,1431.3 L1476.7,1433.2 L1477.6,1435.2 L1478.5,1437.1 L1479.3,1439 L1480.2,1440.9 L1481.1,1442.9 L1482,1444.8 L1482.9,1446.7 L1484.1,1448.5 L1485.2,1450.3 L1486.4,1452.1 L1487.5,1454 L1488.7,1455.8 L1489.8,1457.6 L1491,1459.4 L1492.8,1458.4 L1494.6,1457.4 L1496.4,1456.4 L1498.3,1455.5 L1500.1,1454.5 L1501.9,1453.5 L1503.7,1452.5 L1505.2,1451.2 L1506.8,1449.8 L1508.3,1448.5 L1509.8,1447.1 L1511.4,1445.8 L1512.9,1444.4 L1513.6,1442.5 L1514.4,1440.6 L1515.1,1438.8 L1515.8,1436.9 L1516.6,1435 L1517.3,1433.1 L1518.1,1431.2 L1518.8,1429.3 L1519.5,1427.5 L1520.3,1425.6 L1521,1423.7 L1521.7,1421.8 L1522.3,1419.8 L1523,1417.9 L1523.7,1416 L1524.3,1414.1 L1525,1412.2 L1525.7,1410.2 L1526.3,1408.3 L1527,1406.4 L1527.7,1404.4 L1528.3,1402.5 L1529,1400.6 L1529.4,1398.6 L1529.8,1396.5 L1530.2,1394.5 L1530.6,1392.5 L1531.1,1390.5 L1531.5,1388.4 L1531.9,1386.4 L1532.3,1384.4 L1532.7,1382.3 L1533.1,1380.3 L1533.5,1378.3 L1533.9,1376.2 L1534.4,1374.2 L1534.8,1372.2 L1535.2,1370.2 L1535.6,1368.1 L1536,1366.1 L1536.4,1364 L1536.8,1361.9 L1537.3,1359.8 L1537.7,1357.7 L1538.1,1355.6 L1538.5,1353.5 L1538.9,1351.4 L1539.3,1349.3 L1539.8,1347.2 L1540.2,1345.1 L1540.6,1343 L1541,1340.9 L1541.4,1338.8 L1541.9,1336.7 L1542.3,1334.6 L1542.7,1332.5 L1543.1,1330.5 L1543.5,1328.4 L1543.9,1326.3 L1544.4,1324.2 L1544.8,1322.1 L1545.2,1320 L1545.6,1317.9 L1545.9,1315.9 L1546.3,1313.8 L1546.6,1311.8 L1547,1309.7 L1547.4,1307.7 L1547.7,1305.6 L1548.1,1303.6 L1548.4,1301.5 L1548.8,1299.5 L1549.2,1297.4 L1549.5,1295.4 L1549.9,1293.3 L1550.3,1291.3 L1550.6,1289.2 L1551,1287.2 L1551.3,1285.1 L1551.7,1283.1 L1552.1,1281 L1552.4,1279 L1552.8,1276.9 L1553.1,1274.9 L1553.5,1272.8 L1553.8,1270.8 L1554,1268.8 L1554.3,1266.8 L1554.6,1264.8 L1554.8,1262.8 L1555.1,1260.7 L1555.4,1258.7 L1555.6,1256.7 L1555.9,1254.7 L1556.2,1252.7 L1556.4,1250.7 L1556.7,1248.7 L1557,1246.7 L1557.2,1244.7 L1557.5,1242.7 L1557.8,1240.7 L1558,1238.6 L1558.3,1236.6 L1558.6,1234.6 L1558.8,1232.6 L1559.1,1230.6 L1559.4,1228.6 L1559.7,1226.6 L1559.9,1224.6 L1560.2,1222.6 L1560.5,1220.6 L1560.7,1218.5 L1561,1216.5 L1561.3,1214.5 L1561.5,1212.5 L1561.8,1210.5 L1562.1,1208.5 L1562.3,1206.5 L1562.6,1204.5 L1562.9,1202.5 L1563.1,1200.5 L1563.4,1198.5 L1563.7,1196.4 L1563.9,1194.4 L1564.2,1192.4 L1564.5,1190.4 L1564.7,1188.4 L1565,1186.4 L1565.2,1184.4 L1565.4,1182.4 L1565.6,1180.4 L1565.8,1178.4 L1566,1176.4 L1566.2,1174.3 L1566.4,1172.3 L1566.6,1170.3 L1566.8,1168.3 L1567,1166.3 L1567.2,1164.3 L1567.4,1162.3 L1567.6,1160.3 L1567.8,1158.3 L1568,1156.3 L1568.2,1154.3 L1568.4,1152.2 L1568.6,1150.2 L1568.8,1148.2 L1569,1146.2 L1569.2,1144.2 L1569.5,1142.2 L1569.7,1140.2 L1569.9,1138.2 L1570.1,1136.2 L1570.3,1134.2 L1570.5,1132.1 L1570.7,1130.1 L1570.9,1128.1 L1571.1,1126.1 L1571.3,1124.1 L1571.5,1122.1 L1571.7,1120.1 L1571.9,1118.1 L1572.1,1116.1 L1572.3,1114.1 L1572.5,1112.1 L1572.7,1110 L1572.9,1108 L1573.1,1106 L1573.3,1104 L1573.5,1102 L1573.7,1100 L1573.9,1098 L1574.1,1096 L1574.3,1094 L1574.6,1092 L1574.8,1090 L1575,1088 L1575.2,1086 L1575.4,1084 L1575.6,1082 L1575.8,1080 L1576.1,1078 L1576.3,1076 L1576.5,1074 L1576.7,1072 L1576.9,1070 L1577.1,1068 L1577.4,1066 L1577.6,1064 L1577.8,1062 L1578,1060 L1578.3,1058 L1578.6,1056 L1578.9,1054 L1579.2,1052 L1579.5,1050 L1579.8,1048 L1580.1,1046 L1580.4,1044 L1580.7,1042 L1581,1040 L1581.3,1038 L1581.6,1036 L1581.9,1034 L1582.2,1032 L1582.5,1030 L1582.8,1028 L1583.1,1026 L1583.4,1024 L1583.7,1022 L1584,1020 L1584.3,1018 L1584.6,1016 L1584.9,1014 L1585.2,1012 L1585.5,1010 L1585.8,1008 L1586.1,1006 L1586.4,1004 L1586.7,1002 L1587,1000 L1587.3,998 L1587.6,996 L1587.9,994 L1588.2,992 L1588.5,990 L1588.8,988 L1589.1,986 L1589.4,984 L1589.7,982 L1590,980 L1590.5,978 L1590.9,976 L1591.4,974 L1591.9,972 L1592.4,970 L1592.8,968 L1593.3,966 L1593.8,964 L1594.2,962 L1594.7,960 L1595.2,958 L1595.6,956 L1596.1,954 L1596.6,952 L1597.1,950 L1597.5,948 L1598,946 L1599,944.1 L1600,942.2 L1601,940.3 L1602,938.4 L1603,936.6 L1604,934.7 L1605,932.8 L1606,930.9 L1607,929 L1608.7,927.7 L1610.3,926.3 L1612,925 L1613.7,923.7 L1615.3,922.3 L1617,921 L1619.1,920.9 L1621.2,920.7 L1623.3,920.6 L1625.4,920.5 L1627.5,920.3 L1629.5,920.2 L1631.6,920 L1633.7,919.9 L1635.8,919.8 L1637.9,919.6 L1640,919.5 L1642,919.6 L1644,919.7 L1646,919.8 L1648,920.1 L1650,920.4 L1652,920.7 L1654,921 L1656.1,921.3 L1658.1,921.4 L1660.1,921 L1662.1,920.3 L1664.1,919 L1666.1,917.8 L1668.1,916.1 L1670.1,914.9 L1672.1,914.2 L1674.1,914.1 L1676.1,914.4 L1678.1,915.2 L1680.1,916.4 L1682.1,917.9 L1684.1,919.1 L1686.1,920.5 L1688.2,921.4 L1690.2,921.9 L1692.2,922.1 L1694.2,922.1 L1696.2,921.6 L1698.2,921.1 L1700.2,920.5 L1702.2,919.9 L1704.2,919.9 L1706.2,919.7 L1708.2,919.8 L1710.2,919.8 L1712.2,919.7 L1714.2,919.3 L1716.2,918.9 L1718.3,918.6 L1720.3,917.9 L1722.3,917.1 L1724.3,916.8 L1726.3,916.5 L1728.3,916.6 L1730.3,916.8 L1732.3,917.7 L1734.3,918.7 L1736.3,920.1 L1738.3,921.4 L1740.3,922.5 L1742.3,923.3 L1744.3,924.1 L1746.3,924.1 L1748.4,924 L1750.4,923.4 L1752.4,922.5 L1754.4,921.5 L1756.4,920.4 L1758.4,919.5 L1760.4,918.9 L1762.4,918.6 L1764.4,918.5 L1766.4,918.9 L1768.4,919.2 L1770.4,919.1 L1772.4,919.2 L1774.4,918.5 L1776.4,917.7 L1778.4,916.9 L1780.5,916 L1782.5,915.4 L1784.5,914.9 L1786.5,914.7 L1788.5,914.9 L1790.5,915.9 L1792.5,917.1 L1794.5,918.7 L1796.5,920.4 L1798.5,921.7 L1800.5,923.2 L1802.5,923.9 L1804.5,924.2 L1806.5,923.8 L1808.5,923.2 L1810.6,922.4 L1812.6,920.9 L1814.6,919.5 L1816.6,918.4 L1818.6,917.6 L1820.6,916.9 L1822.6,916.8 L1824.6,916.8 L1826.6,917.4 L1828.6,917.8 L1830.6,918.5 L1832.6,918.7 L1834.6,919.3 L1836.6,919.4 L1838.6,919.7 L1840.6,919.5 L1842.7,919.4 L1844.7,919.9 L1846.7,920.1 L1848.7,920.7 L1850.7,921.6 L1852.7,922.2 L1854.7,922.9 L1856.7,923.2 L1858.7,923.4 L1860.7,923 L1862.7,922.6 L1864.7,921.5 L1866.7,920.3 L1868.7,918.8 L1870.7,917.7 L1872.8,916.8 L1874.8,915.9 L1876.8,915.6 L1878.8,915.6 L1880.8,915.9 L1882.8,916.6 L1884.8,917.3 L1886.8,917.8 L1888.8,918.2 L1890.8,918.7 L1892.8,918.7 L1894.8,918.5 L1896.8,918.6 L1898.8,918.2 L1900.8,918.6 L1902.9,919 L1904.9,919.7 L1906.9,920.5 L1908.9,921.4 L1910.9,922.6 L1912.9,923.5 L1914.9,923.9 L1916.9,924.1 L1918.9,924 L1920.9,923.4 L1922.9,922.2 L1924.9,920.9 L1926.9,919.1 L1928.9,917.6 L1930.9,916.5 L1932.9,915.7 L1935,915.4 L1937,915.5 L1939,916.3 L1941,917.3 L1943,918.5 L1945,919.6 L1947,920.7 L1949,921.7 L1951,922.4 L1953,922.6 L1955,922.4 L1957,922.1 L1959,921.6 L1961,921.1 L1963,920.8 L1965.1,920.7 L1967.1,920.4 L1969.1,920.1 L1971.1,920.3 L1973.1,920.4 L1975.1,920.1 L1977.1,919.5 L1979.1,918.6 L1981.1,917.9 L1983.1,916.7 L1985.1,915.8 L1987.1,915.1 L1989.1,914.6 L1991.1,914.5 L1993.1,914.9 L1995.1,915.9 L1997.2,916.9 L1999.2,918 L2001.2,919.2 L2003.2,920.3 L2005.2,921.3 L2007.2,922 L2009.2,922.4 L2011.2,922.2 L2013.2,922.3 L2015.2,922 L2017.2,921.8 L2019.2,921.5 L2021.2,921.5 L2023.2,921.6 L2025.2,921.7 L2027.3,921.9 L2029.3,921.8 L2031.3,921.7 L2033.3,921.3 L2035.3,920.7 L2037.3,919.7 L2039.3,918.5 L2041.3,917.5 L2043.3,916.3 L2045.3,915.7 L2047.3,915.4 L2049.3,915.6 L2051.3,915.9 L2053.3,916.9 L2055.3,918.4 L2057.4,920.1 L2059.4,921.7 L2061.4,922.8 L2063.4,923.5 L2065.4,923.8 L2067.4,923.8 L2069.4,923.3 L2071.4,922.1 L2073.4,921 L2075.4,919.8 L2077.4,918.5 L2079.4,917.5 L2081.4,917 L2083.4,916.6 L2085.4,916.6 L2087.4,916.9 L2089.5,917 L2091.5,917.2 L2093.5,917.5 L2095.5,917.8 L2097.5,917.7 L2099.5,917.8 L2101.5,917.5 L2103.5,917.4" stroke="#7c7c3e" stroke-width="2.4"/>
<path d="M276,919.5 L278,920.2 L280,920.3 L282,919.8 L284,918.7 L286,916.4 L288,916.6 L290,919 L292,921.8 L294,925.3 L296,927.4 L298,923.3 L300,919.4 L302,916.6 L304,913.5 L306,915 L308,917.7 L310,920.2 L312,922.3 L314,922.5 L316,920 L318,918 L320,916.6 L322,916.4 L324,917.6 L326,918.9 L328,920 L330,921.3 L332,921 L334,920.2 L336,919 L338,917.7 L340,917.5 L342,918.5 L344,920.2 L346,921.8 L348,923.5 L350,922.1 L352,920.2 L354,917.8 L356,914.9 L358,914.3 L360,916.4 L362,918.9 L364,921.8 L366,923.9 L368,921.4 L370,919.3 L372,917.5 L374,915.1 L376,916.4 L378,918.6 L380,920.9 L382,923.7 L384,924.5 L386,922 L388,919.7 L390,917.2 L392,914.4 L394,915.5 L396,918.3 L398,920.8 L400,923.7 L402,923.7 L404,921.2 L406,918.5 L408,915.6 L410,912.9 L412,915.6 L414,918.3 L416,921.7 L418,925.7 L420,924.6 L422,921.9 L424,918.6 L426,915.5 L428,914.2 L430,917.9 L432,920.7 L434,923.4 L436,925.9 L438,923.1 L440,920.7 L442,917.8 L444,915.5 L446,915.5 L448,917.5 L450,919.8 L452,921.5 L454,922.3 L456,920.1 L458,918.6 L460,917.3 L462,916.4 L464,916.9 L466,918.6 L468,920.4 L470,921.3 L472,922.3 L474,921.5 L476,920.5 L478,919.7 L480,918 L482,918.9 L484,919.5 L486,921.5 L488,922.9 L490,922.6 L492,920.8 L494,918.5 L496,916.1 L498,913.9 L500,915.8 L502,917.9 L504,920.6 L506,924.3 L508,923.9 L510,920.8 L512,918 L514,915.3 L516,914.6 L518,917.3 L520,920.6 L522,923.1 L524,926 L526,923.7 L528,920.8 L530,918.5 L532,915.7 L534,915.7 L536,918.3 L538,920.7 L540,922.3 L542,924.3 L544,922.1 L546,919.3 L548,916.1 L550,912.9 L552,914.4 L554,917.7 L556,920.5 L558,923.5 L560,925.5 L562,922.6 L564,919.6 L566,917.4 L568,914.6 L570,916.6 L572,919.1 L574,922.1 L576,925.1 L578,924.7 L580,921.3 L582,918.9 L584,917 L586,915.1 L588,916.9 L590,918.6 L592,920.1 L594,921.1 L596,920.2 L598,918.7 L600,917.5 L602,916.5 L604,916.5 L606,917.7 L608,919.5 L610,920.5 L612,922.3 L614,922.1 L616,920.9 L618,919.4 L620,918 L622,917.6 L624,919 L626,920.3 L628,922.2 L630,924.2 L632,922 L634,919.3 L636,916.8 L638,913.3 L640,914.4 L642,917.3 L644,919.9 L646,923.2 L648,924.7 L650,921.9 L652,918.9 L654,915.7 L656,913.3 L658,916.1 L660,919.4 L662,922.8 L664,925.5 L666,926.1 L668,922.7 L670,919.8 L672,917 L674,914.8 L676,916.6 L678,919.3 L680,921.5 L682,923.7 L684,923.1 L686,920.7 L688,918.1 L690,915.9 L692,914.3 L694,916.6 L696,919.1 L698,921.9 L700,925.1 L702,923.7 L704,921.5 L706,919.1 L708,916.6 L710,916.4 L712,918.7 L714,921.4 L716,923.4 L718,925 L720,923 L722,921 L724,918.4 L726,916.5 L728,916.5 L730,918.4 L732,920.1 L734,921.3 L736,921.8 L738,920.7 L740,919.4 L742,918.4 L744,917.7 L746,917.6 L748,919.1 L750,920.8 L752,921.7 L754,923.5 L756,923.2 L758,921.9 L760,920.7 L762,918.4 L764,916.8 L766,919 L768,920.7 L770,922.4 L772,924.7 L774,924.4 L776,921.6 L778,919.1 L780,915.6 L782,913.9 L784,915.6 L786,918.1 L788,921.4 L790,923.7 L792,925.9 L794,923.6 L796,921.1 L798,918.4 L800,916.4 L802,916.7 L804,919.3 L806,921.2 L808,923.4 L810,925.7 L812,924.7 L814,922.4 L816,920 L818,917.9 L820,916 L822,917.3 L824,918.4 L826,919.7 L828,921.2 L830,922.4 L832,921.2 L834,920.2 L836,918.7 L838,917.6 L840,916.3 L842,918.1 L844,920.1 L846,922 L848,923.6 L850,924.5 L852,923.1 L854,921.8 L856,919.9 L858,918.5 L860,917.6 L862,918.7 L864,920.2 L866,921.9 L868,923 L870,923.3 L872,922.1 L874,921.1 L876,920.1 L878,919.2 L880,918.6 L882,919.8 L884,920.8 L886,921.6 L888,922.3 L890,923.3 L892,923 L894,922 L896,921 L898,919.6 L900,918.2 L902,919.1 L904,920.9 L906,922.1 L908,923.5 L910,925.5 L912,925.2 L914,922.9 L916,920.3 L918,917.7 L920,915.1 L922,915.1 L924,918.1 L926,920.3 L928,922.9 L930,925.7 L932,926.6 L934,924.2 L936,922.2 L938,920.2 L940,918.3 L942,917.7 L944,920.1 L946,922.2 L948,924.1 L950,926.4 L952,928.3 L954,927.5 L956,925.7 L958,923.9 L960,922.2 L962,920.4 L964,920.3 L966,921.5 L968,923 L970,923.8 L972,925.1 L974,926.2 L976,925.5 L978,924.8 L980,923.4 L982,922.4 L984,921.6 L986,922.4 L988,924.4 L990,926 L992,927.2 L994,928.4 L996,929.5 L998,927.8 L1000,926.8 L1002,925.2 L1004,924.3 L1006.1,923.5 L1008.1,923.4 L1010.1,924.2 L1012.1,925.4 L1014.2,926.7 L1016.2,927.2 L1018.2,927.8 L1020.2,927.4 L1022.3,927 L1024.3,926.2 L1026.3,925.3 L1028.3,925 L1030.4,925.9 L1032.4,927.2 L1034.4,928.7 L1036.5,930.1 L1038.5,931.6 L1040.5,932.6 L1042.5,931.8 L1044.5,931 L1046.6,929.9 L1048.6,927.9 L1050.6,926.5 L1052.7,926.2 L1054.7,927.7 L1056.7,928.9 L1058.7,930.6 L1060.7,932.4 L1062.8,934.1 L1064.8,932.6 L1066.8,930.9 L1068.8,929.4 L1070.8,928 L1072.9,926.5 L1074.9,926.1 L1076.9,928.7 L1078.9,931.2 L1081,933.6 L1083,935.3 L1085,937.3 L1087,936.9 L1089,935.2 L1091.1,934.3 L1093.1,932.9 L1095.1,931.9 L1097.1,931.4 L1099.2,932 L1101.2,932.6 L1103.2,933.1 L1105.2,934.1 L1107.2,934.9 L1109.3,935.7 L1111.3,935.3 L1113.3,934.5 L1115.4,934.2 L1117.5,934 L1119.6,933.7 L1121.7,933.8 L1123.8,934.4 L1125.9,935.1 L1128,936.1 L1130.1,937.7 L1132.2,939.2 L1134.2,939.4 L1136.3,938.1 L1138.4,937.2 L1140.5,936.2 L1142.6,934.6 L1144.7,933.9 L1146.8,934.5 L1148.9,935.8 L1151,937 L1153,938 L1155,938.8 L1157,939.7 L1159,939.1 L1161,938.4 L1163,937.5 L1165,936.8 L1167,936.4 L1169,936.3 L1170.9,936.9 L1172.9,939 L1174.9,940.6 L1176.9,942.2 L1178.9,943.7 L1180.9,945.6 L1182.9,945.5 L1184.9,944.3 L1186.9,943 L1188.9,941.8 L1190.9,940.6 L1192.9,939.3 L1194.9,939.8 L1196.8,941.7 L1198.8,943.9 L1200.8,945.8 L1202.8,948 L1204.8,949.8 L1206.8,951.4 L1208.7,950.7 L1210.7,950.1 L1212.7,949.5 L1214.7,948.9 L1216.7,948.1 L1218.7,948.4 L1220.6,950.5 L1222.6,952.3 L1224.6,954.1 L1226.6,955.7 L1228.5,957.3 L1230.4,958.9 L1232.3,959.5 L1234.2,959 L1236,959.1 L1237.9,959.4 L1239.8,959.4 L1241.7,960 L1243.6,960.2 L1245.5,960.6 L1247.4,961.6 L1249.3,962.8 L1251.2,963.9 L1253.1,964.7 L1255,965.7 L1256.8,967 L1258.7,968.2 L1260.6,968.6 L1262.5,969.2 L1264.4,970.1 L1266.2,971.2 L1267.9,972.2 L1269.7,973.4 L1271.5,974.8 L1273.2,976.1 L1275,977.8 L1276.8,979.5 L1278.6,981.2 L1280.3,983 L1282.1,984.7 L1283.9,985.5 L1285.6,985.8 L1287.4,986.6 L1289.2,987.1 L1290.9,988.3 L1292.7,989.5 L1294.2,991 L1295.7,992.5 L1297.2,994 L1298.7,995.5 L1300.2,997 L1301.7,998.5 L1303.2,1000 L1304,1001.9 L1304.7,1003.8 L1305.5,1005.6 L1306.2,1007.5 L1307,1009.4 L1307.7,1011.3 L1308.5,1013.2 L1309.2,1015.1 L1310,1016.9 L1310.7,1018.8 L1311.5,1020.7 L1312.3,1022.6 L1313,1024.5 L1313.8,1026.4 L1314.5,1028.3 L1315.3,1030.2 L1316,1032 L1316.8,1033.9 L1317.5,1035.8 L1318.3,1037.7 L1319,1039.6 L1319.8,1041.5 L1320.3,1043.6 L1320.8,1045.6 L1321.3,1047.7 L1321.8,1049.8 L1322.3,1051.8 L1322.9,1053.9 L1323.4,1056 L1323.9,1058.1 L1324.4,1060.1 L1324.9,1062.2 L1325.6,1064.3 L1326.4,1066.3 L1327.1,1068.4 L1327.8,1070.5 L1328.6,1072.6 L1329.3,1074.6 L1330,1076.7 L1330.7,1078.8 L1331.5,1080.8 L1332.2,1082.9 L1332.7,1085 L1333.2,1087.1 L1333.8,1089.1 L1334.3,1091.2 L1334.8,1093.3 L1335.3,1095.4 L1335.8,1097.5 L1336.4,1099.5 L1336.9,1101.6 L1337.4,1103.7 L1338.3,1105.6 L1339.3,1107.5 L1340.2,1109.3 L1341.1,1111.2 L1342.1,1113.1 L1343,1115 L1344,1116.9 L1344.9,1118.8 L1345.8,1120.6 L1346.8,1122.5 L1347.7,1124.4 L1348.5,1126.3 L1349.2,1128.2 L1350,1130 L1350.7,1131.9 L1351.5,1133.8 L1352.2,1135.7 L1353,1137.6 L1353.7,1139.5 L1354.5,1141.3 L1355.2,1143.2 L1356,1145.1 L1356.5,1147 L1357,1149 L1357.6,1150.9 L1358.1,1152.9 L1358.6,1154.8 L1359.1,1156.7 L1359.7,1158.7 L1360.2,1160.6 L1360.7,1162.5 L1361.2,1164.5 L1361.7,1166.4 L1362.3,1168.4 L1362.8,1170.3 L1363.3,1172.2 L1363.8,1174.2 L1364.4,1176.1 L1364.9,1178.1 L1365.4,1180 L1365.9,1181.9 L1366.5,1183.9 L1367,1185.8 L1367.5,1187.8 L1368,1189.7 L1368.6,1191.7 L1369.1,1193.6 L1369.8,1195.6 L1370.5,1197.7 L1371.2,1199.7 L1371.8,1201.7 L1372.5,1203.8 L1373.2,1205.8 L1373.9,1207.8 L1374.6,1209.8 L1375.3,1211.9 L1375.9,1213.9 L1376.6,1215.9 L1377.3,1218 L1378,1220 L1378.7,1222 L1379.4,1224 L1380.1,1226 L1380.8,1228 L1381.5,1230 L1382.2,1232 L1382.9,1234 L1383.6,1236 L1384.3,1238 L1385,1240 L1385.7,1242 L1386.4,1244 L1387,1246 L1387.6,1248.1 L1388.2,1250.1 L1388.8,1252.2 L1389.4,1254.2 L1390,1256.2 L1390.6,1258.3 L1391.2,1260.3 L1391.8,1262.4 L1392.4,1264.4 L1393,1266.5 L1393.6,1268.5 L1395,1270.1 L1396.5,1271.8 L1397.9,1273.4 L1399.4,1275.1 L1400.8,1276.7 L1402.3,1278.4 L1403.7,1280 L1404.3,1282 L1405,1284 L1405.6,1286 L1406.3,1288 L1406.9,1290 L1407.5,1292 L1408.2,1294 L1408.8,1296 L1409.5,1298 L1410.1,1300 L1410.7,1302 L1411.4,1304 L1412,1306 L1412.6,1308 L1413.3,1310 L1413.9,1312 L1414.6,1314 L1415.2,1316 L1415.7,1318 L1416.2,1320.1 L1416.7,1322.2 L1417.2,1324.2 L1417.6,1326.2 L1418.1,1328.3 L1418.6,1330.3 L1419.1,1332.4 L1419.6,1334.5 L1420.1,1336.5 L1420.6,1338.5 L1421,1340.6 L1421.5,1342.6 L1422,1344.7 L1422.5,1346.8 L1423,1348.8 L1424.1,1350.6 L1425.1,1352.4 L1426.2,1354.1 L1427.2,1355.9 L1428.3,1357.7 L1429.3,1359.5 L1430.4,1361.3 L1431.4,1363.1 L1432.5,1364.8 L1433.5,1366.6 L1434.6,1368.4 L1435.4,1370.3 L1436.1,1372.2 L1436.9,1374.2 L1437.7,1376.1 L1438.4,1378 L1439.2,1379.9 L1440,1381.8 L1440.7,1383.7 L1441.5,1385.7 L1442.3,1387.6 L1443,1389.5 L1443.8,1391.4 L1444.4,1393.5 L1444.9,1395.5 L1445.5,1397.6 L1446.1,1399.6 L1446.7,1401.7 L1447.2,1403.7 L1447.8,1405.8 L1448.4,1407.9 L1448.9,1409.9 L1449.5,1412 L1450.1,1414 L1450.7,1416.1 L1451.2,1418.1 L1451.8,1420.2 L1453.2,1421.8 L1454.7,1423.4 L1456.2,1425 L1457.6,1426.6 L1459,1428.1 L1460.5,1429.7 L1462,1431.3 L1463.4,1432.9 L1464.7,1434.5 L1466,1436.2 L1467.3,1437.8 L1468.7,1439.5 L1470,1441.1 L1471.3,1442.8 L1472.6,1444.4 L1475.4,1444.4 L1478.3,1444.4 L1479.5,1446.1 L1480.6,1447.9 L1481.8,1449.6 L1482.9,1451.3 L1484.1,1453 L1485.3,1454.8 L1486.4,1456.5 L1487.6,1458.2 L1488.3,1456.2 L1488.9,1454.3 L1489.6,1452.3 L1490.2,1450.3 L1490.9,1448.3 L1491.5,1446.4 L1492.2,1444.4 L1493.3,1442.3 L1494.5,1440.2 L1495.6,1438.2 L1496.8,1436.1 L1497.9,1434 L1498.9,1432.3 L1499.9,1430.5 L1500.9,1428.8 L1502,1427.1 L1503,1425.4 L1504,1423.7 L1505,1421.9 L1506,1420.2 L1506.7,1418.3 L1507.3,1416.4 L1508,1414.5 L1508.6,1412.6 L1509.3,1410.7 L1509.9,1408.8 L1510.6,1407 L1511.3,1405.1 L1511.9,1403.2 L1512.6,1401.3 L1513.2,1399.4 L1513.9,1397.5 L1514.5,1395.6 L1515.2,1393.7 L1515.6,1391.7 L1516,1389.7 L1516.5,1387.7 L1516.9,1385.7 L1517.3,1383.7 L1517.7,1381.8 L1518.1,1379.8 L1518.5,1377.8 L1519,1375.8 L1519.4,1373.8 L1519.8,1371.8 L1520.4,1369.6 L1521,1367.5 L1521.5,1365.3 L1522.1,1363.2 L1522.7,1361 L1523.2,1358.9 L1523.8,1356.8 L1524.4,1354.6 L1525,1352.7 L1525.6,1350.8 L1526.1,1348.8 L1526.7,1346.9 L1527.3,1345 L1527.8,1343 L1528.4,1341.1 L1529,1339.2 L1529.6,1337.3 L1530.2,1335.3 L1530.7,1333.4 L1531.3,1331.5 L1531.6,1329.4 L1531.9,1327.3 L1532.2,1325.2 L1532.6,1323.1 L1532.9,1321 L1533.2,1318.9 L1533.5,1316.8 L1533.8,1314.7 L1534.1,1312.6 L1534.4,1310.5 L1534.7,1308.4 L1535.1,1306.3 L1535.4,1304.2 L1535.7,1302.1 L1536,1300 L1536.2,1298 L1536.4,1296 L1536.5,1293.9 L1536.7,1291.9 L1536.9,1289.9 L1537.1,1287.9 L1537.3,1285.8 L1537.5,1283.8 L1537.6,1281.8 L1537.8,1279.8 L1538,1277.7 L1538.2,1275.7 L1538.4,1273.7 L1538.6,1271.7 L1538.7,1269.6 L1538.9,1267.6 L1539.1,1265.6 L1539.4,1263.6 L1539.8,1261.6 L1540.1,1259.6 L1540.5,1257.5 L1540.8,1255.5 L1541.2,1253.5 L1541.5,1251.5 L1541.9,1249.5 L1542.2,1247.5 L1542.5,1245.4 L1542.9,1243.4 L1543.2,1241.4 L1543.6,1239.4 L1543.9,1237.4 L1544.3,1235.4 L1544.6,1233.3 L1544.9,1231.3 L1545.3,1229.3 L1545.6,1227.3 L1546,1225.3 L1546.3,1223.3 L1546.7,1221.2 L1547,1219.2 L1547.4,1217.2 L1547.7,1215.2 L1548,1213.2 L1548.3,1211.2 L1548.6,1209.1 L1549,1207.1 L1549.3,1205.1 L1549.6,1203 L1549.9,1201 L1550.2,1199 L1550.5,1197 L1550.9,1195 L1551.2,1192.9 L1551.5,1190.9 L1551.8,1188.9 L1552.1,1186.9 L1552.4,1184.8 L1552.8,1182.8 L1553.1,1180.8 L1553.4,1178.8 L1553.7,1176.7 L1554,1174.7 L1554.3,1172.7 L1554.6,1170.7 L1555,1168.6 L1555.3,1166.6 L1555.6,1164.6 L1555.9,1162.6 L1556.2,1160.5 L1556.5,1158.5 L1556.9,1156.5 L1557.2,1154.5 L1557.5,1152.4 L1557.8,1150.4 L1558,1148.4 L1558.3,1146.4 L1558.5,1144.4 L1558.7,1142.3 L1559,1140.3 L1559.2,1138.3 L1559.4,1136.3 L1559.7,1134.3 L1559.9,1132.3 L1560.1,1130.2 L1560.4,1128.2 L1560.6,1126.2 L1560.8,1124.2 L1561,1122.2 L1561.3,1120.2 L1561.5,1118.1 L1561.7,1116.1 L1562,1114.1 L1562.2,1112.1 L1562.4,1110.1 L1562.7,1108.1 L1562.9,1106 L1563.1,1104 L1563.4,1102 L1563.6,1100 L1564,1098 L1564.3,1095.9 L1564.7,1093.9 L1565.1,1091.8 L1565.4,1089.8 L1565.8,1087.8 L1566.2,1085.7 L1566.6,1083.7 L1566.9,1081.7 L1567.3,1079.6 L1567.7,1077.6 L1568,1075.5 L1568.4,1073.5 L1568.7,1071.5 L1569.1,1069.5 L1569.4,1067.6 L1569.7,1065.6 L1570,1063.6 L1570.4,1061.6 L1570.7,1059.7 L1571,1057.7 L1571.4,1055.7 L1571.7,1053.7 L1572,1051.8 L1572.3,1049.8 L1572.7,1047.8 L1573,1045.8 L1573.3,1043.9 L1573.7,1041.9 L1574,1039.9 L1574.3,1037.9 L1574.6,1036 L1575,1034 L1575.3,1032 L1575.7,1030 L1576.1,1027.9 L1576.5,1025.9 L1576.9,1023.9 L1577.3,1021.9 L1577.7,1019.8 L1578.1,1017.8 L1578.5,1015.8 L1579,1013.7 L1579.4,1011.7 L1579.8,1009.7 L1580.2,1007.6 L1580.6,1005.6 L1581,1003.6 L1581.4,1001.6 L1581.8,999.5 L1582.2,997.5 L1582.6,995.5 L1583,993.4 L1583.4,991.4 L1583.8,989.4 L1584.2,987.3 L1584.6,985.3 L1585,983.3 L1585.4,981.2 L1585.9,979.2 L1586.3,977.1 L1586.7,975.1 L1587.1,973.1 L1587.5,971 L1587.9,969 L1588.3,967 L1588.7,964.9 L1589.1,962.9 L1589.7,961 L1590.4,959.1 L1591,957.2 L1591.7,955.2 L1592.3,953.3 L1592.9,951.4 L1593.6,949.5 L1594.2,947.6 L1594.8,945.7 L1595.5,943.7 L1596.1,941.8 L1596.8,939.9 L1597.4,938 L1598.8,936.4 L1600.2,934.9 L1601.6,933.3 L1602.9,931.7 L1604.3,930.1 L1605.7,928.6 L1607.1,927 L1609,925.6 L1611,924.2 L1612.9,922.9 L1614.9,921.5 L1616.8,920.1 L1618.9,920 L1621,920 L1623.1,919.9 L1625.2,919.9 L1627.3,919.8 L1629.5,919.8 L1631.6,919.7 L1633.7,919.7 L1635.8,919.6 L1637.9,919.6 L1640,919.5 L1642,919.7 L1644,919.9 L1646,920 L1648,920.3 L1650,920.5 L1652,920.7 L1654,920.9 L1656.1,921.1 L1658.1,921 L1660.1,920.6 L1662.1,919.7 L1664.1,918.6 L1666.1,917.2 L1668.1,915.6 L1670.1,914.4 L1672.1,913.9 L1674.1,913.7 L1676.1,914.4 L1678.1,915.2 L1680.1,916.4 L1682.1,917.7 L1684.1,919.2 L1686.1,920.5 L1688.2,921.3 L1690.2,921.4 L1692.2,921.4 L1694.2,921 L1696.2,920.8 L1698.2,920.4 L1700.2,920.1 L1702.2,920.2 L1704.2,920.1 L1706.2,920.5 L1708.2,920.7 L1710.2,921.1 L1712.2,921.1 L1714.2,920.8 L1716.2,920 L1718.3,919 L1720.3,917.9 L1722.3,916.7 L1724.3,915.5 L1726.3,914.5 L1728.3,914.5 L1730.3,914.6 L1732.3,915.6 L1734.3,917.1 L1736.3,919.1 L1738.3,921.1 L1740.3,923 L1742.3,924.7 L1744.3,925.8 L1746.3,926.3 L1748.4,926.3 L1750.4,925.6 L1752.4,924.6 L1754.4,923.1 L1756.4,921.3 L1758.4,920.1 L1760.4,919 L1762.4,917.9 L1764.4,917.6 L1766.4,917.5 L1768.4,917.6 L1770.4,917.8 L1772.4,917.7 L1774.4,917.6 L1776.4,917.4 L1778.4,916.8 L1780.5,916 L1782.5,915.6 L1784.5,915.2 L1786.5,915.3 L1788.5,915.4 L1790.5,916 L1792.5,917.3 L1794.5,918.7 L1796.5,920.2 L1798.5,921.8 L1800.5,923.3 L1802.5,923.9 L1804.5,924.4 L1806.5,924 L1808.5,923.5 L1810.6,922.4 L1812.6,921 L1814.6,920 L1816.6,918.9 L1818.6,918.3 L1820.6,918.1 L1822.6,917.7 L1824.6,917.8 L1826.6,918.2 L1828.6,918.3 L1830.6,918.3 L1832.6,918.6 L1834.6,918.3 L1836.6,918.2 L1838.6,918.1 L1840.6,918 L1842.7,918.1 L1844.7,918.7 L1846.7,919.3 L1848.7,920.6 L1850.7,921.9 L1852.7,923.2 L1854.7,924.4 L1856.7,925.3 L1858.7,925.9 L1860.7,925.7 L1862.7,925 L1864.7,923.5 L1866.7,921.5 L1868.7,919.5 L1870.7,917.3 L1872.8,915.2 L1874.8,913.6 L1876.8,913.1 L1878.8,912.7 L1880.8,913.3 L1882.8,914.1 L1884.8,915.4 L1886.8,916.7 L1888.8,917.7 L1890.8,918.8 L1892.8,919.5 L1894.8,919.9 L1896.8,919.6 L1898.8,919.7 L1900.8,919.4 L1902.9,919.4 L1904.9,919.5 L1906.9,920.2 L1908.9,921.1 L1910.9,922.2 L1912.9,922.9 L1914.9,923.5 L1916.9,923.9 L1918.9,924.1 L1920.9,923.4 L1922.9,922.6 L1924.9,921.1 L1926.9,919.6 L1928.9,918.1 L1930.9,916.7 L1932.9,915.5 L1935,915 L1937,915.4 L1939,916.1 L1941,916.8 L1943,917.8 L1945,919 L1947,920.3 L1949,921.3 L1951,921.5 L1953,921.6 L1955,921.7 L1957,921.7 L1959,921.6 L1961,921.5 L1963,921.4 L1965.1,921.6 L1967.1,921.9 L1969.1,922.2 L1971.1,922.3 L1973.1,921.9 L1975.1,921.3 L1977.1,920.3 L1979.1,918.7 L1981.1,917.3 L1983.1,915.5 L1985.1,913.9 L1987.1,912.8 L1989.1,911.9 L1991.1,912.1 L1993.1,912.6 L1995.1,913.8 L1997.2,915.7 L1999.2,917.6 L2001.2,920 L2003.2,922 L2005.2,923.2 L2007.2,924.1 L2009.2,924.7 L2011.2,924.6 L2013.2,923.8 L2015.2,923.1 L2017.2,922.1 L2019.2,921.4 L2021.2,920.8 L2023.2,920.4 L2025.2,920.6 L2027.3,920.8 L2029.3,920.8 L2031.3,921 L2033.3,921.2 L2035.3,921 L2037.3,920.4 L2039.3,919.5 L2041.3,918.2 L2043.3,917.2 L2045.3,916.2 L2047.3,915.7 L2049.3,915.3 L2051.3,915.8 L2053.3,916.7 L2055.3,917.8 L2057.4,919.2 L2059.4,920.8 L2061.4,922.1 L2063.4,923.3 L2065.4,923.8 L2067.4,923.7 L2069.4,923.4 L2071.4,922.8 L2073.4,921.8 L2075.4,920.6 L2077.4,919.4 L2079.4,918.4 L2081.4,917.8 L2083.4,917.6 L2085.4,917.4 L2087.4,917.2 L2089.5,916.9 L2091.5,916.9 L2093.5,916.6 L2095.5,916.4 L2097.5,916.1 L2099.5,915.7 L2101.5,915.4 L2103.5,915.6" stroke="#15157f" stroke-width="2.6"/>
<path d="M276,919.5 L278,919.8 L280,920.5 L282,920.4 L284,919.9 L286,919.1 L288,918 L290,918.2 L292,919.3 L294,920.1 L296,921.3 L298,920.8 L300,919.1 L302,918.1 L304,917.2 L306,916.8 L308,917.8 L310,918.5 L312,919.3 L314,920.8 L316,921 L318,919.9 L320,918.9 L322,917.4 L324,916.9 L326,918.1 L328,919.6 L330,921.8 L332,924.1 L334,923.3 L336,921.4 L338,919.2 L340,917 L342,916.2 L344,917.9 L346,919.7 L348,921.2 L350,923.2 L352,920.9 L354,919.2 L356,917.2 L358,914.6 L360,915.2 L362,917.9 L364,919.8 L366,922.5 L368,924.3 L370,922.3 L372,920.9 L374,918.4 L376,915.9 L378,917.3 L380,919.5 L382,921.2 L384,923.6 L386,924.3 L388,921.6 L390,918.6 L392,916.4 L394,914.1 L396,915.9 L398,917.9 L400,920.5 L402,923.3 L404,923.1 L406,920.7 L408,917.9 L410,916.1 L412,915 L414,917.3 L416,919.4 L418,922 L420,924 L422,923.3 L424,921.8 L426,919.8 L428,918.5 L430,917.8 L432,919.1 L434,919.7 L436,920.7 L438,920.9 L440,920.3 L442,919.1 L444,917.9 L446,916.6 L448,916.5 L450,917.1 L452,918.1 L454,919.9 L456,921.2 L458,920.1 L460,919 L462,918 L464,916.9 L466,917.7 L468,919.4 L470,921.6 L472,923.5 L474,924.2 L476,922 L478,919.9 L480,917.2 L482,914.3 L484,916.2 L486,918.7 L488,920.8 L490,923.1 L492,922.7 L494,919.9 L496,917 L498,914.6 L500,913.6 L502,916.1 L504,918.6 L506,921.6 L508,924 L510,923.4 L512,921.7 L514,919.5 L516,917.4 L518,916.3 L520,918.5 L522,920.6 L524,922.9 L526,924.2 L528,922.6 L530,920.7 L532,918.4 L534,915.6 L536,915.6 L538,917.4 L540,919.1 L542,921.3 L544,923.1 L546,920.6 L548,918.6 L550,916.4 L552,914.3 L554,916.3 L556,918.3 L558,920.8 L560,922.6 L562,923.1 L564,921.8 L566,920.3 L568,919 L570,918.2 L572,919.2 L574,919.6 L576,920.3 L578,921.3 L580,920.6 L582,919.1 L584,918 L586,916.9 L588,916.3 L590,917 L592,918.4 L594,920.1 L596,921.2 L598,921.1 L600,919.8 L602,918.7 L604,916.9 L606,915.9 L608,917.7 L610,919.7 L612,922.2 L614,925.1 L616,923.2 L618,920.7 L620,917.5 L622,914.7 L624,915.1 L626,917.4 L628,920 L630,922.5 L632,924.2 L634,920.8 L636,918.5 L638,916 L640,913 L642,914.3 L644,917.5 L646,920.2 L648,922.7 L650,923.9 L652,921.4 L654,920.1 L656,918.7 L658,916.9 L660,918.4 L662,919.8 L664,921.8 L666,923.6 L668,923 L670,921.1 L672,918.6 L674,916.5 L676,915.5 L678,916.8 L680,919 L682,920.6 L684,922.8 L686,922.1 L688,919.8 L690,918.4 L692,916.4 L694,915.9 L696,918.2 L698,920.3 L700,922.6 L702,923.8 L704,922.7 L706,920.9 L708,919.2 L710,917.7 L712,918.1 L714,919.2 L716,920.7 L718,921.4 L720,922.2 L722,920.5 L724,919.3 L726,918.4 L728,917.5 L730,917 L732,918.2 L734,919.8 L736,921.5 L738,923.2 L740,922 L742,921 L744,919.4 L746,917.1 L748,916.8 L750,918.7 L752,921.1 L754,923.4 L756,926.6 L758,924.8 L760,922.3 L762,919.4 L764,916.3 L766,914.2 L768,917.1 L770,919.4 L772,921.8 L774,924.5 L776,923.3 L778,921.1 L780,918.2 L782,916.6 L784,915.8 L786,917.9 L788,919.7 L790,921.3 L792,923.3 L794,923.7 L796,922.6 L798,921.1 L800,920.4 L802,919.5 L804,919.1 L806,919.7 L808,920.4 L810,921.2 L812,922.1 L814,922.1 L816,921.1 L818,919.4 L820,918.6 L822,917.3 L824,917.7 L826,918.9 L828,919.8 L830,920.8 L832,922.4 L834,922.1 L836,921.6 L838,920.1 L840,919.2 L842,918.5 L844,919.6 L846,920.7 L848,921.6 L850,923.2 L852,923.6 L854,922.9 L856,921.8 L858,921 L860,919.7 L862,918.9 L864,919.5 L866,919.6 L868,920.7 L870,921.9 L872,922.9 L874,921.8 L876,920.8 L878,920 L880,918.4 L882,917.6 L884,918.6 L886,920.3 L888,922.6 L890,924.3 L892,925.8 L894,924.4 L896,923 L898,921.4 L900,919.2 L902,917.1 L904,918.2 L906,920.4 L908,922.4 L910,924.3 L912,925.6 L914,924.9 L916,922.4 L918,920.5 L920,918.7 L922,917 L924,917.6 L926,919.9 L928,921.8 L930,923.6 L932,925 L934,925.4 L936,924.2 L938,923.3 L940,922.4 L942,921.8 L944,921.1 L946,922 L948,922.9 L950,923.9 L952,924 L954,925 L956,924.2 L958,923.2 L960,922.5 L962,921.1 L964,920.5 L966,920 L968,921.1 L970,922.2 L972,923.2 L974,924.6 L976,925.9 L978,925.5 L980,925.2 L982,923.9 L984,923 L986,922 L988,922.7 L990,923.5 L992,924.7 L994,926.2 L996,927.4 L998,927.4 L1000,925.8 L1002,924.7 L1004,923.6 L1006.1,922.6 L1008.1,921.5 L1010.1,922 L1012.1,923.5 L1014.2,924.3 L1016.2,925.3 L1018.2,926.6 L1020.2,928.1 L1022.3,928 L1024.3,927.4 L1026.3,926.7 L1028.3,925.4 L1030.4,924.5 L1032.4,925.4 L1034.4,926.9 L1036.5,927.9 L1038.5,929.2 L1040.5,930.7 L1042.5,932 L1044.5,930.9 L1046.6,929.8 L1048.6,927.6 L1050.6,926.1 L1052.7,924.8 L1054.7,924.9 L1056.7,926.6 L1058.7,927.5 L1060.7,928.9 L1062.8,929.9 L1064.8,931.4 L1066.8,930.9 L1068.8,930.5 L1070.8,929.7 L1072.9,929.8 L1074.9,929.5 L1076.9,929.2 L1078.9,930.6 L1081,931.4 L1083,931.8 L1085,932.8 L1087,933.3 L1089,933.7 L1091.1,933 L1093.1,932.3 L1095.1,931.9 L1097.1,931.1 L1099.2,930.5 L1101.2,930.5 L1103.2,930.7 L1105.2,931.4 L1107.2,932.1 L1109.3,932.9 L1111.3,934.6 L1113.3,934.9 L1115.4,934.6 L1117.5,933.8 L1119.6,932.9 L1121.7,932.6 L1123.8,932 L1125.9,932.8 L1128,934 L1130.1,935 L1132.2,936.5 L1134.2,938.1 L1136.3,938.4 L1138.4,937 L1140.5,935.6 L1142.6,934.4 L1144.7,933.1 L1146.8,931.7 L1148.9,932.2 L1151,933.7 L1153,934.7 L1155,935.8 L1157,937 L1159,938.1 L1161,938.6 L1163,938.2 L1165,938.1 L1167,937.6 L1169,936.6 L1170.9,935.7 L1172.9,936.1 L1174.9,937.6 L1176.9,939.3 L1178.9,940.8 L1180.9,942.2 L1182.9,943.4 L1184.9,943.9 L1186.9,942.8 L1188.9,941.6 L1190.9,940.5 L1192.9,939.7 L1194.9,938.7 L1196.8,938.7 L1198.8,940.8 L1200.8,942.2 L1202.8,944.2 L1204.8,945.1 L1206.8,946.6 L1208.7,947.9 L1210.7,947.7 L1212.7,947.6 L1214.7,948.5 L1216.7,948.7 L1218.7,948.9 L1220.6,949.3 L1222.6,950.2 L1224.6,951.1 L1226.6,952.5 L1228.5,953.3 L1230.4,953.9 L1232.3,954.9 L1234.2,955.6 L1236,956.3 L1237.9,956.5 L1239.8,956.7 L1241.7,956.9 L1243.6,957.3 L1245.5,957.6 L1247.4,958.4 L1249.3,960 L1251.2,961.4 L1253.1,962.5 L1255,963.8 L1256.8,965.4 L1258.7,966.5 L1260.6,967.7 L1262.5,967.9 L1264.4,968.9 L1266.2,969.6 L1267.9,970.5 L1269.7,971.5 L1271.5,972.6 L1273.2,973.5 L1275,974.8 L1276.8,976 L1278.6,977.4 L1280.3,978.4 L1282.1,980 L1283.9,981.1 L1285.6,982.1 L1287.4,982.8 L1289.2,983 L1290.9,984.9 L1292.7,986 L1294.1,987.7 L1295.4,989.4 L1296.8,991.1 L1298.1,992.8 L1299.5,994.5 L1300.9,996.3 L1302.2,998 L1303.6,999.7 L1304.9,1001.4 L1306.3,1003.1 L1308.4,1003.5 L1310.4,1003.9 L1312.5,1004.4 L1314.5,1004.8 L1316.6,1005.2 L1318,1006.9 L1319.4,1008.6 L1320.8,1010.4 L1322.1,1012.1 L1323.5,1013.8 L1324.9,1015.5 L1325.8,1017.4 L1326.8,1019.2 L1327.7,1021.1 L1328.7,1023 L1329.6,1024.8 L1330.5,1026.7 L1331.5,1028.6 L1332.4,1030.5 L1333.4,1032.3 L1334.3,1034.2 L1336.2,1034.9 L1338.1,1035.6 L1340,1036.3 L1341.9,1037 L1343.8,1037.7 L1345.7,1038.4 L1346.7,1040.5 L1347.8,1042.5 L1348.8,1044.6 L1349.9,1046.6 L1350.9,1048.7 L1351.9,1050.4 L1353,1052.2 L1354,1053.9 L1355,1055.6 L1356.1,1057.4 L1357.1,1059.1 L1358.1,1060.8 L1359.2,1062.6 L1360.2,1064.3 L1361,1066.2 L1361.9,1068 L1362.7,1069.9 L1363.5,1071.7 L1364.3,1073.6 L1365.2,1075.5 L1366,1077.3 L1366.8,1079.2 L1367.7,1081 L1368.5,1082.9 L1369.2,1084.9 L1369.8,1086.8 L1370.5,1088.8 L1371.1,1090.7 L1371.8,1092.7 L1372.4,1094.6 L1373,1096.5 L1373.7,1098.5 L1375.4,1100.2 L1377,1101.8 L1378.7,1103.5 L1380.3,1105.1 L1382,1106.8 L1382.6,1108.8 L1383.1,1110.7 L1383.7,1112.7 L1384.3,1114.6 L1384.8,1116.6 L1385.4,1118.5 L1386,1120.5 L1386.5,1122.4 L1387.1,1124.4 L1387.7,1126.4 L1388.2,1128.4 L1388.8,1130.4 L1389.3,1132.4 L1389.9,1134.4 L1390.5,1136.4 L1391,1138.3 L1391.6,1140.3 L1392.2,1142.3 L1392.7,1144.3 L1393.3,1146.3 L1393.8,1148.3 L1394.4,1150.3 L1395.3,1152.4 L1396.2,1154.4 L1397.1,1156.5 L1398.1,1158.6 L1399,1160.7 L1399.9,1162.7 L1400.8,1164.8 L1401.4,1166.7 L1402,1168.6 L1402.5,1170.6 L1403.1,1172.5 L1403.7,1174.4 L1404.3,1176.3 L1404.9,1178.2 L1405.4,1180.2 L1406,1182.1 L1406.6,1184 L1407.2,1185.9 L1407.8,1187.8 L1408.3,1189.8 L1408.9,1191.7 L1409.5,1193.6 L1410.1,1195.6 L1410.6,1197.6 L1411.2,1199.6 L1411.7,1201.6 L1412.3,1203.6 L1412.8,1205.6 L1413.4,1207.6 L1413.9,1209.6 L1414.5,1211.6 L1415.1,1213.6 L1415.6,1215.6 L1416.2,1217.6 L1416.7,1219.6 L1417.3,1221.6 L1417.8,1223.6 L1418.4,1225.6 L1418.9,1227.6 L1419.5,1229.6 L1420.2,1231.5 L1420.9,1233.4 L1421.6,1235.3 L1422.2,1237.2 L1422.9,1239.1 L1423.6,1241 L1424.3,1242.9 L1425,1244.8 L1425.7,1246.7 L1426.3,1248.5 L1427,1250.4 L1427.7,1252.3 L1428.4,1254.2 L1429.1,1256.1 L1429.8,1258 L1430.4,1259.9 L1431.1,1261.8 L1431.8,1263.7 L1432.5,1265.6 L1433.1,1267.5 L1433.6,1269.4 L1434.2,1271.4 L1434.8,1273.3 L1435.4,1275.2 L1435.9,1277.1 L1436.5,1279 L1437.1,1281 L1437.7,1282.9 L1438.2,1284.8 L1438.8,1286.7 L1439.4,1288.6 L1440,1290.6 L1440.5,1292.5 L1441.1,1294.4 L1441.5,1296.4 L1441.9,1298.3 L1442.3,1300.3 L1442.6,1302.3 L1443,1304.2 L1443.4,1306.2 L1443.8,1308.2 L1444.2,1310.2 L1444.6,1312.1 L1444.9,1314.1 L1445.3,1316.1 L1445.7,1318 L1446.1,1320 L1446.5,1322.1 L1446.9,1324.2 L1447.4,1326.3 L1447.8,1328.4 L1448.2,1330.5 L1448.6,1332.5 L1449,1334.6 L1449.4,1336.7 L1449.9,1338.8 L1450.3,1340.9 L1450.7,1343 L1451.5,1344.9 L1452.2,1346.8 L1453,1348.8 L1453.8,1350.7 L1454.5,1352.6 L1455.3,1354.5 L1456.1,1356.5 L1456.8,1358.4 L1457.6,1360.3 L1458.2,1362.2 L1458.8,1364.2 L1459.3,1366.1 L1459.9,1368 L1460.5,1369.9 L1461,1371.8 L1461.6,1373.8 L1462.2,1375.7 L1462.8,1377.6 L1463.3,1379.6 L1463.9,1381.5 L1464.5,1383.4 L1465.1,1385.3 L1465.7,1387.2 L1466.2,1389.2 L1466.8,1391.1 L1467.4,1393 L1468,1394.9 L1468.5,1396.8 L1469.1,1398.7 L1469.7,1400.7 L1470.2,1402.6 L1470.8,1404.5 L1471.4,1406.4 L1472,1408.3 L1472.6,1410.2 L1473.1,1412.2 L1473.7,1414.1 L1474.3,1416 L1474.8,1417.9 L1475.4,1419.8 L1476,1421.7 L1476.6,1423.7 L1477.2,1425.6 L1477.7,1427.5 L1478.3,1429.4 L1478.9,1431.6 L1479.5,1433.7 L1480,1435.9 L1480.6,1438.1 L1481.2,1440.2 L1481.8,1442.4 L1482.3,1444.5 L1482.9,1446.7 L1483.5,1448.9 L1484.1,1451 L1484.7,1453.2 L1485.2,1455.3 L1485.8,1457.5 L1486.4,1459.7 L1487,1461.8 L1487.6,1464 L1488.5,1465.8 L1489.4,1467.7 L1490.4,1469.5 L1491.3,1471.4 L1492.2,1473.2 L1493.4,1474.9 L1494.5,1476.7 L1495.7,1478.4 L1496.8,1480.1 L1498,1481.8 L1499.1,1483.5 L1500.2,1485.3 L1501.4,1487 L1502.7,1488.8 L1504,1490.6 L1505.3,1492.4 L1506.7,1494.3 L1508,1496.1 L1509.3,1497.9 L1510.6,1499.7 L1512.9,1499.9 L1515.2,1500.2 L1517.5,1500.4 L1519.8,1500.7 L1522.1,1500.9 L1523.5,1499.3 L1524.9,1497.7 L1526.2,1496 L1527.6,1494.4 L1529,1492.8 L1529.6,1490.6 L1530.2,1488.5 L1530.7,1486.3 L1531.3,1484.2 L1531.9,1482 L1532.4,1479.8 L1533,1477.7 L1533.6,1475.5 L1534.4,1473.6 L1535.2,1471.7 L1535.9,1469.7 L1536.7,1467.8 L1537.5,1465.9 L1538.3,1464 L1539,1462 L1539.8,1460.1 L1540.6,1458.2 L1541.1,1456.1 L1541.6,1454 L1542.2,1451.9 L1542.7,1449.8 L1543.2,1447.7 L1543.7,1445.7 L1544.2,1443.6 L1544.7,1441.5 L1545.3,1439.4 L1545.8,1437.3 L1546.3,1435.2 L1546.7,1433.1 L1547.1,1431.1 L1547.5,1429 L1548,1427 L1548.4,1424.9 L1548.8,1422.9 L1549.2,1420.8 L1549.6,1418.7 L1550,1416.7 L1550.4,1414.6 L1550.9,1412.6 L1551.3,1410.5 L1551.7,1408.5 L1552.1,1406.4 L1552.4,1404.4 L1552.8,1402.3 L1553.1,1400.3 L1553.4,1398.3 L1553.8,1396.2 L1554.1,1394.2 L1554.4,1392.2 L1554.8,1390.1 L1555.1,1388.1 L1555.5,1386 L1555.8,1384 L1556.1,1382 L1556.5,1379.9 L1556.8,1377.9 L1557.1,1375.9 L1557.5,1373.8 L1557.8,1371.8 L1558,1369.8 L1558.2,1367.7 L1558.4,1365.7 L1558.6,1363.7 L1558.8,1361.7 L1559,1359.6 L1559.2,1357.6 L1559.4,1355.6 L1559.7,1353.5 L1559.9,1351.5 L1560.1,1349.5 L1560.3,1347.4 L1560.5,1345.4 L1560.7,1343.4 L1560.9,1341.4 L1561.1,1339.3 L1561.3,1337.3 L1561.6,1335.1 L1561.9,1333 L1562.2,1330.8 L1562.4,1328.7 L1562.7,1326.5 L1563,1324.3 L1563.3,1322.2 L1563.6,1320 L1563.8,1318 L1564,1315.9 L1564.1,1313.8 L1564.3,1311.8 L1564.5,1309.8 L1564.7,1307.7 L1564.9,1305.7 L1565,1303.6 L1565.2,1301.5 L1565.4,1299.5 L1565.6,1297.5 L1565.8,1295.4 L1566,1293.4 L1566.1,1291.3 L1566.3,1289.2 L1566.5,1287.2 L1566.7,1285.2 L1567,1283.2 L1567.2,1281.2 L1567.5,1279.3 L1567.7,1277.3 L1568,1275.3 L1568.2,1273.3 L1568.5,1271.3 L1568.7,1269.3 L1569,1267.3 L1569.2,1265.4 L1569.5,1263.4 L1569.7,1261.4 L1570,1259.4 L1570.2,1257.4 L1570.5,1255.4 L1570.7,1253.4 L1571,1251.4 L1571.2,1249.5 L1571.5,1247.5 L1571.7,1245.5 L1572,1243.5 L1572.2,1241.5 L1572.5,1239.5 L1572.7,1237.5 L1573,1235.6 L1573.2,1233.6 L1573.5,1231.6 L1573.7,1229.6 L1573.9,1227.6 L1574.2,1225.6 L1574.4,1223.6 L1574.7,1221.6 L1574.9,1219.6 L1575.1,1217.6 L1575.4,1215.6 L1575.6,1213.6 L1575.8,1211.6 L1576.1,1209.6 L1576.3,1207.6 L1576.6,1205.6 L1576.8,1203.6 L1577,1201.6 L1577.3,1199.6 L1577.5,1197.6 L1577.8,1195.6 L1578,1193.6 L1578.2,1191.6 L1578.5,1189.6 L1578.7,1187.6 L1579,1185.6 L1579.2,1183.6 L1579.4,1181.6 L1579.7,1179.6 L1579.9,1177.6 L1580.2,1175.6 L1580.4,1173.6 L1580.6,1171.6 L1580.9,1169.6 L1581.1,1167.6 L1581.3,1165.6 L1581.6,1163.6 L1581.8,1161.6 L1582.1,1159.6 L1582.3,1157.6 L1582.5,1155.5 L1582.7,1153.5 L1582.9,1151.4 L1583.1,1149.4 L1583.3,1147.3 L1583.5,1145.3 L1583.7,1143.2 L1583.9,1141.1 L1584.1,1139.1 L1584.3,1137 L1584.5,1135 L1584.7,1132.9 L1584.9,1130.9 L1585.2,1128.8 L1585.4,1126.7 L1585.6,1124.7 L1585.8,1122.6 L1586,1120.6 L1586.2,1118.5 L1586.4,1116.5 L1586.6,1114.4 L1586.8,1112.3 L1587,1110.3 L1587.2,1108.2 L1587.4,1106.2 L1587.6,1104.1 L1587.8,1102.1 L1588,1100 L1588.3,1098 L1588.5,1096 L1588.8,1094 L1589.1,1091.9 L1589.3,1089.9 L1589.6,1087.9 L1589.9,1085.9 L1590.1,1083.9 L1590.4,1081.9 L1590.7,1079.8 L1590.9,1077.8 L1591.2,1075.8 L1591.4,1073.8 L1591.7,1071.8 L1592,1069.8 L1592.2,1067.8 L1592.5,1065.7 L1592.8,1063.7 L1593,1061.7 L1593.3,1059.7 L1593.6,1057.7 L1594,1055.7 L1594.3,1053.8 L1594.6,1051.8 L1594.9,1049.8 L1595.3,1047.8 L1595.6,1045.9 L1595.9,1043.9 L1596.3,1041.9 L1596.6,1039.9 L1596.9,1038 L1597.2,1036 L1597.6,1034 L1597.9,1032 L1598.2,1030.1 L1598.6,1028.1 L1598.9,1026.1 L1599.2,1024.1 L1599.5,1022.2 L1599.9,1020.2 L1600.2,1018.2 L1600.6,1016.2 L1601,1014.3 L1601.4,1012.3 L1601.8,1010.3 L1602.2,1008.3 L1602.6,1006.4 L1603,1004.4 L1603.3,1002.4 L1603.7,1000.5 L1604.1,998.5 L1604.5,996.5 L1604.9,994.5 L1605.3,992.6 L1605.7,990.6 L1606.2,988.6 L1606.7,986.5 L1607.2,984.5 L1607.7,982.5 L1608.1,980.4 L1608.6,978.4 L1609.1,976.4 L1609.6,974.3 L1610.1,972.3 L1610.6,970.2 L1611.1,968.2 L1611.6,966.2 L1612,964.1 L1612.5,962.1 L1613,960.1 L1613.5,958 L1614,956 L1614.6,954 L1615.2,952.1 L1615.7,950.1 L1616.3,948.2 L1616.9,946.2 L1617.5,944.2 L1618,942.3 L1618.6,940.3 L1619.2,938.4 L1619.8,936.4 L1620.3,934.5 L1620.9,932.5 L1622.6,931.1 L1624.3,929.8 L1626.1,928.4 L1627.8,927 L1629.7,925.6 L1631.7,924.2 L1633.6,922.9 L1635.6,921.5 L1637.5,920.1 L1640,919.8 L1642.5,919.6 L1645,919.3 L1647,919.3 L1649,919.3 L1651,919.3 L1653,919.3 L1655,919.3 L1657,919.3 L1659,919.3 L1661,919.3 L1663,919.3 L1665,919.3 L1667,919.3 L1669,919.3 L1671,919.3 L1673,919.3 L1675,919.3 L1677,919.3 L1679,919.3 L1681,919.3 L1683,919.3 L1685,919.3 L1687,919.3 L1689,919.3 L1691.1,919.3 L1693.1,919.3 L1695.1,919.3 L1697.1,919.3 L1699.1,919.3 L1701.1,919.3 L1703.1,919.3 L1705.1,919.3 L1707.1,919.3 L1709.1,919.3 L1711.1,919.3 L1713.1,919.3 L1715.1,919.3 L1717.1,919.3 L1719.1,919.3 L1721.1,919.3 L1723.1,919.3 L1725.1,919.3 L1727.1,919.3 L1729.1,919.3 L1731.1,919.3 L1733.1,919.3 L1735.1,919.3 L1737.1,919.3 L1739.1,919.3 L1741.1,919.3 L1743.1,919.3 L1745.1,919.3 L1747.1,919.3 L1749.1,919.3 L1751.1,919.3 L1753.1,919.3 L1755.1,919.3 L1757.1,919.3 L1759.1,919.3 L1761.1,919.3 L1763.1,919.3 L1765.1,919.3 L1767.1,919.3 L1769.1,919.3 L1771.1,919.3 L1773.1,919.3 L1775.1,919.3 L1777.1,919.3 L1779.1,919.3 L1781.1,919.3 L1783.2,919.3 L1785.2,919.3 L1787.2,919.3 L1789.2,919.3 L1791.2,919.3 L1793.2,919.3 L1795.2,919.3 L1797.2,919.3 L1799.2,919.3 L1801.2,919.3 L1803.2,919.3 L1805.2,919.3 L1807.2,919.3 L1809.2,919.3 L1811.2,919.3 L1813.2,919.3 L1815.2,919.3 L1817.2,919.3 L1819.2,919.3 L1821.2,919.3 L1823.2,919.3 L1825.2,919.3 L1827.2,919.3 L1829.2,919.3 L1831.2,919.3 L1833.2,919.3 L1835.2,919.3 L1837.2,919.3 L1839.2,919.3 L1841.2,919.3 L1843.2,919.3 L1845.2,919.3 L1847.2,919.3 L1849.2,919.3 L1851.2,919.3 L1853.2,919.3 L1855.2,919.3 L1857.2,919.3 L1859.2,919.3 L1861.2,919.3 L1863.2,919.3 L1865.2,919.3 L1867.2,919.3 L1869.2,919.3 L1871.2,919.3 L1873.2,919.3 L1875.3,919.3 L1877.3,919.3 L1879.3,919.3 L1881.3,919.3 L1883.3,919.3 L1885.3,919.3 L1887.3,919.3 L1889.3,919.3 L1891.3,919.3 L1893.3,919.3 L1895.3,919.3 L1897.3,919.3 L1899.3,919.3 L1901.3,919.3 L1903.3,919.3 L1905.3,919.3 L1907.3,919.3 L1909.3,919.3 L1911.3,919.3 L1913.3,919.3 L1915.3,919.3 L1917.3,919.3 L1919.3,919.3 L1921.3,919.3 L1923.3,919.3 L1925.3,919.3 L1927.3,919.3 L1929.3,919.3 L1931.3,919.3 L1933.3,919.3 L1935.3,919.3 L1937.3,919.3 L1939.3,919.3 L1941.3,919.3 L1943.3,919.3 L1945.3,919.3 L1947.3,919.3 L1949.3,919.3 L1951.3,919.3 L1953.3,919.3 L1955.3,919.3 L1957.3,919.3 L1959.3,919.3 L1961.3,919.3 L1963.3,919.3 L1965.3,919.3 L1967.4,919.3 L1969.4,919.3 L1971.4,919.3 L1973.4,919.3 L1975.4,919.3 L1977.4,919.3 L1979.4,919.3 L1981.4,919.3 L1983.4,919.3 L1985.4,919.3 L1987.4,919.3 L1989.4,919.3 L1991.4,919.3 L1993.4,919.3 L1995.4,919.3 L1997.4,919.3 L1999.4,919.3 L2001.4,919.3 L2003.4,919.3 L2005.4,919.3 L2007.4,919.3 L2009.4,919.3 L2011.4,919.3 L2013.4,919.3 L2015.4,919.3 L2017.4,919.3 L2019.4,919.3 L2021.4,919.3 L2023.4,919.3 L2025.4,919.3 L2027.4,919.3 L2029.4,919.3 L2031.4,919.3 L2033.4,919.3 L2035.4,919.3 L2037.4,919.3 L2039.4,919.3 L2041.4,919.3 L2043.4,919.3 L2045.4,919.3 L2047.4,919.3 L2049.4,919.3 L2051.4,919.3 L2053.4,919.3 L2055.4,919.3 L2057.4,919.3 L2059.5,919.3 L2061.5,919.3 L2063.5,919.3 L2065.5,919.3 L2067.5,919.3 L2069.5,919.3 L2071.5,919.3 L2073.5,919.3 L2075.5,919.3 L2077.5,919.3 L2079.5,919.3 L2081.5,919.3 L2083.5,919.3 L2085.5,919.3 L2087.5,919.3 L2089.5,919.3 L2091.5,919.3 L2093.5,919.3 L2095.5,919.3 L2097.5,919.3 L2099.5,919.3 L2101.5,919.3 L2103.5,919.3" stroke="#d83ed4" stroke-width="3.2"/>
</g>
<g font-size="60">
<text transform="translate(245.2,757.3) scale(0.945,1)" text-anchor="end">0</text>
<text transform="translate(245.2,632.5) scale(0.945,1)" text-anchor="end">20</text>
<text transform="translate(245.2,507.6) scale(0.945,1)" text-anchor="end">40</text>
<text transform="translate(245.2,382.8) scale(0.945,1)" text-anchor="end">60</text>
<text transform="translate(245.2,257.9) scale(0.945,1)" text-anchor="end">80</text>
<text transform="translate(245.2,133.1) scale(0.945,1)" text-anchor="end">100</text>
<text transform="translate(245.2,1512.3) scale(0.945,1)" text-anchor="end">-2.5</text>
<text transform="translate(245.2,1396.8) scale(0.945,1)" text-anchor="end">-2.0</text>
<text transform="translate(245.2,1281.4) scale(0.945,1)" text-anchor="end">-1.5</text>
<text transform="translate(245.2,1166) scale(0.945,1)" text-anchor="end">-1.0</text>
<text transform="translate(245.2,1050.5) scale(0.945,1)" text-anchor="end">-0.5</text>
<text transform="translate(245.2,935) scale(0.945,1)" text-anchor="end">0.0</text>
<text transform="translate(245.2,819.6) scale(0.945,1)" text-anchor="end">0.5</text>
</g>
<g font-size="61">
<text transform="translate(274.6,1633.2) scale(0.95,1)" text-anchor="middle">200</text>
<text transform="translate(503.4,1633.2) scale(0.95,1)" text-anchor="middle">250</text>
<text transform="translate(732.1,1633.2) scale(0.95,1)" text-anchor="middle">300</text>
<text transform="translate(960.9,1633.2) scale(0.95,1)" text-anchor="middle">350</text>
<text transform="translate(1189.6,1633.2) scale(0.95,1)" text-anchor="middle">400</text>
<text transform="translate(1418.3,1633.2) scale(0.95,1)" text-anchor="middle">450</text>
<text transform="translate(1647.1,1633.2) scale(0.95,1)" text-anchor="middle">500</text>
<text transform="translate(1875.8,1633.2) scale(0.95,1)" text-anchor="middle">550</text>
<text transform="translate(2104.6,1633.2) scale(0.95,1)" text-anchor="middle">600</text>
</g>
<text transform="translate(1191,1735.7) scale(0.967,1)" font-size="59" text-anchor="middle">Temperature (<tspan font-size="37" dy="-21.4">o</tspan><tspan dy="21.4">C)</tspan></text>
<text transform="translate(106.6,390.5) rotate(-90)" font-size="61" text-anchor="middle">Mass (%)</text>
<text transform="translate(95.3,1363.6) rotate(-90)" font-size="60">DTGA<tspan font-size="37" dy="22.6">corrected</tspan><tspan dy="-22.6"> (%</tspan><tspan dy="-5">·</tspan><tspan font-size="32" dy="-18">o</tspan><tspan dy="23">C</tspan><tspan font-size="37" dy="-29">-1</tspan><tspan dy="29">)</tspan></text>
<text transform="translate(316.6,735.6) scale(0.972,1)" font-size="75" style="stroke-width:1.1px">(a)</text>
<text transform="translate(316.6,1482.5) scale(0.972,1)" font-size="75" style="stroke-width:1.1px">(b)</text>
<path d="M508,1110.1 H652.5" stroke="#000000" stroke-width="3.2" fill="none"/>
<text transform="translate(665.5,1131) scale(1.012,1)" font-size="58.3">Ground-PE</text>
<path d="M508,1184.3 H652.5" stroke="#b02323" stroke-width="3.2" fill="none"/>
<text transform="translate(665.5,1205.2) scale(1.012,1)" font-size="58.3">Milled-PE</text>
<path d="M508,1258.5 H652.5" stroke="#7c7c3e" stroke-width="3.2" fill="none"/>
<text transform="translate(665.5,1279.4) scale(1.012,1)" font-size="58.3">PE-0.5% Ag</text>
<path d="M508,1332.7 H652.5" stroke="#15157f" stroke-width="3.2" fill="none"/>
<text transform="translate(665.5,1353.6) scale(1.012,1)" font-size="58.3">PE-1% Ag</text>
<path d="M508,1406.9 H652.5" stroke="#d83ed4" stroke-width="3.2" fill="none"/>
<text transform="translate(665.5,1427.8) scale(1.012,1)" font-size="58.3">PE-2% Ag</text>
</svg></body></html>
